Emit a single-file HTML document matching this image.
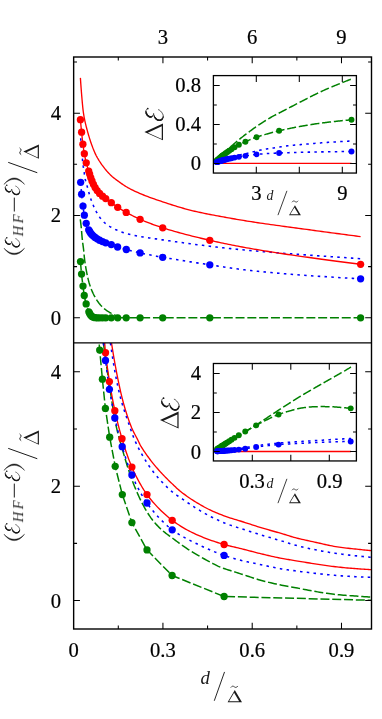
<!DOCTYPE html>
<html><head><meta charset="utf-8"><title>chart</title>
<style>html,body{margin:0;padding:0;background:#fff;}body{width:382px;height:719px;overflow:hidden;font-family:"Liberation Serif",serif;}svg{display:block;will-change:transform;}</style></head>
<body>
<svg width="382" height="719" viewBox="0 0 382 719">
<defs><clipPath id="cpT"><rect x="73.65" y="57.00" width="297.85" height="285.90"/></clipPath><clipPath id="cpB"><rect x="73.65" y="342.90" width="297.85" height="286.10"/></clipPath></defs>
<rect width="382" height="719" fill="#fff"/>
<path d="M80.40 77.85L80.50 79.37L80.60 80.88L80.70 82.38L80.80 83.87L80.91 85.36L81.02 86.83L81.12 88.29L81.24 89.75L81.35 91.19L81.46 92.63L81.58 94.06L81.70 95.47L81.82 96.89L81.94 98.31L82.06 99.74L82.19 101.17L82.31 102.59L82.44 104.01L82.58 105.40L82.71 106.76L82.85 108.09L82.99 109.37L83.14 110.60L83.28 111.78L83.44 112.89L83.59 113.93L83.75 114.92L83.91 115.88L84.08 116.82L84.26 117.77L84.45 118.73L84.65 119.74L84.86 120.80L85.10 121.90L85.35 123.04L85.63 124.20L85.92 125.37L86.22 126.57L86.53 127.77L86.85 128.98L87.18 130.18L87.51 131.38L87.84 132.57L88.18 133.75L88.52 134.95L88.88 136.16L89.25 137.38L89.62 138.59L90.00 139.80L90.39 140.99L90.78 142.17L91.17 143.32L91.57 144.45L91.96 145.54L92.35 146.60L92.73 147.63L93.11 148.63L93.50 149.62L93.90 150.61L94.32 151.60L94.76 152.60L95.23 153.62L95.73 154.66L96.28 155.75L96.89 156.86L97.53 158.01L98.22 159.16L98.93 160.33L99.67 161.49L100.43 162.64L101.20 163.77L101.96 164.87L102.73 165.93L103.48 166.94L104.23 167.91L104.98 168.86L105.74 169.80L106.51 170.71L107.29 171.59L108.08 172.46L108.87 173.31L109.67 174.13L110.48 174.93L111.29 175.70L112.11 176.45L112.95 177.17L113.79 177.87L114.65 178.55L115.51 179.22L116.37 179.87L117.24 180.51L118.11 181.14L118.97 181.76L119.83 182.38L120.68 182.99L121.51 183.58L122.35 184.17L123.19 184.74L124.04 185.31L124.92 185.88L125.84 186.45L126.79 187.02L127.79 187.60L128.83 188.17L129.90 188.74L131.00 189.31L132.13 189.88L133.29 190.45L134.48 191.02L135.70 191.59L136.95 192.16L138.22 192.72L139.52 193.29L140.85 193.86L142.21 194.43L143.61 195.00L145.05 195.57L146.52 196.13L148.02 196.70L149.55 197.27L151.10 197.83L152.69 198.40L154.29 198.97L155.92 199.53L157.56 200.10L159.22 200.67L160.90 201.23L162.59 201.80L164.33 202.38L166.10 202.96L167.91 203.56L169.75 204.15L171.62 204.75L173.51 205.35L175.42 205.95L177.34 206.54L179.28 207.12L181.22 207.69L183.17 208.25L185.11 208.80L187.05 209.33L188.98 209.84L190.90 210.33L192.80 210.80L194.69 211.25L196.60 211.69L198.52 212.11L200.45 212.53L202.38 212.94L204.31 213.34L206.24 213.72L208.17 214.11L210.10 214.48L212.02 214.85L213.93 215.21L215.83 215.56L217.71 215.91L219.58 216.25L221.44 216.59L223.27 216.93L225.07 217.26L226.82 217.58L228.53 217.89L230.19 218.19L231.82 218.48L233.44 218.76L235.06 219.04L236.68 219.32L238.32 219.60L239.98 219.88L241.68 220.16L243.44 220.45L245.25 220.74L247.14 221.05L249.11 221.36L251.17 221.68L253.34 222.02L255.61 222.36L257.96 222.71L260.40 223.07L262.91 223.43L265.49 223.80L268.13 224.17L270.82 224.55L273.55 224.93L276.31 225.31L279.10 225.70L281.91 226.08L284.73 226.46L287.56 226.85L290.38 227.23L293.18 227.61L295.97 227.98L298.73 228.36L301.45 228.72L304.13 229.09L306.75 229.44L309.32 229.79L311.84 230.13L314.36 230.47L316.87 230.81L319.37 231.15L321.87 231.49L324.35 231.82L326.83 232.15L329.30 232.48L331.76 232.81L334.21 233.14L336.65 233.46L339.08 233.79L341.51 234.11L343.92 234.43L346.33 234.74L348.73 235.06L351.12 235.37L353.51 235.68L355.88 235.99L358.24 236.30L360.60 236.60" stroke="#ff0000" stroke-width="1.35" fill="none" clip-path="url(#cpT)"/>
<path d="M80.70 138.30L80.76 139.55L80.82 140.77L80.88 141.97L80.95 143.13L81.01 144.27L81.08 145.37L81.16 146.44L81.23 147.48L81.31 148.50L81.39 149.47L81.47 150.42L81.55 151.33L81.64 152.19L81.74 153.02L81.84 153.81L81.94 154.58L82.04 155.34L82.14 156.11L82.23 156.88L82.32 157.67L82.39 158.47L82.46 159.28L82.53 160.08L82.59 160.88L82.66 161.68L82.73 162.49L82.80 163.29L82.89 164.08L82.99 164.88L83.11 165.67L83.24 166.46L83.39 167.25L83.53 168.04L83.68 168.83L83.82 169.62L83.94 170.41L84.06 171.21L84.15 172.02L84.24 172.84L84.33 173.66L84.41 174.48L84.50 175.29L84.59 176.08L84.70 176.85L84.82 177.60L84.96 178.30L85.11 178.95L85.29 179.57L85.48 180.20L85.68 180.86L85.90 181.57L86.13 182.36L86.39 183.27L86.66 184.30L86.97 185.44L87.29 186.67L87.64 187.98L88.01 189.35L88.39 190.77L88.80 192.22L89.21 193.69L89.64 195.16L90.08 196.61L90.53 198.03L90.99 199.41L91.45 200.72L91.92 201.97L92.40 203.22L92.92 204.47L93.45 205.73L94.00 206.99L94.57 208.23L95.16 209.46L95.76 210.67L96.37 211.84L97.00 212.98L97.63 214.08L98.27 215.13L98.91 216.12L99.56 217.05L100.21 217.92L100.87 218.76L101.52 219.57L102.20 220.34L102.88 221.08L103.59 221.80L104.32 222.50L105.08 223.18L105.87 223.84L106.70 224.49L107.58 225.13L108.53 225.77L109.55 226.41L110.64 227.05L111.78 227.68L112.97 228.30L114.19 228.90L115.44 229.49L116.70 230.05L117.96 230.59L119.21 231.10L120.45 231.58L121.65 232.01L122.82 232.41L123.94 232.77L125.03 233.10L126.09 233.40L127.13 233.69L128.17 233.96L129.21 234.22L130.26 234.47L131.33 234.72L132.43 234.96L133.57 235.20L134.76 235.45L136.00 235.70L137.30 235.96L138.66 236.21L140.07 236.46L141.52 236.71L143.01 236.96L144.54 237.20L146.10 237.45L147.68 237.69L149.29 237.93L150.92 238.17L152.56 238.41L154.22 238.65L155.87 238.89L157.53 239.13L159.18 239.37L160.83 239.62L162.47 239.86L164.13 240.10L165.80 240.35L167.50 240.60L169.20 240.85L170.92 241.09L172.65 241.34L174.39 241.59L176.14 241.84L177.89 242.08L179.65 242.33L181.41 242.57L183.17 242.81L184.93 243.05L186.69 243.29L188.44 243.53L190.19 243.76L191.93 243.99L193.66 244.21L195.40 244.44L197.15 244.66L198.90 244.88L200.66 245.11L202.42 245.33L204.18 245.55L205.94 245.76L207.70 245.98L209.45 246.19L211.20 246.40L212.94 246.61L214.67 246.82L216.40 247.02L218.11 247.22L219.81 247.41L221.49 247.60L223.16 247.79L224.80 247.97L226.39 248.14L227.91 248.30L229.40 248.46L230.84 248.62L232.27 248.77L233.68 248.92L235.10 249.06L236.53 249.21L237.98 249.36L239.47 249.50L241.02 249.65L242.62 249.81L244.30 249.97L246.07 250.14L247.93 250.31L249.90 250.49L251.97 250.68L254.12 250.87L256.35 251.06L258.65 251.26L261.02 251.46L263.47 251.67L265.99 251.87L268.59 252.09L271.26 252.30L274.01 252.52L276.82 252.74L279.71 252.96L282.67 253.19L285.70 253.42L288.81 253.65L291.98 253.88L295.22 254.12L298.53 254.37L301.91 254.61L305.36 254.86L308.88 255.11L312.46 255.37L316.11 255.63L319.83 255.89L323.62 256.16L327.47 256.43L331.39 256.70L335.37 256.98L339.41 257.25L343.52 257.54L347.70 257.82L351.94 258.11L356.24 258.40L360.60 258.70" stroke="#0000ff" stroke-width="1.55" stroke-dasharray="2.5 4.3" fill="none" clip-path="url(#cpT)"/>
<path d="M80.25 219.30L80.31 219.72L80.37 220.15L80.43 220.58L80.48 221.01L80.54 221.44L80.60 221.88L80.65 222.32L80.71 222.76L80.76 223.20L80.82 223.65L80.87 224.10L80.92 224.56L80.98 225.01L81.03 225.47L81.08 225.93L81.13 226.39L81.18 226.86L81.23 227.33L81.28 227.80L81.33 228.28L81.37 228.76L81.42 229.24L81.46 229.73L81.51 230.23L81.55 230.73L81.59 231.23L81.63 231.74L81.67 232.24L81.71 232.76L81.75 233.27L81.79 233.78L81.83 234.30L81.88 234.81L81.92 235.33L81.96 235.84L82.00 236.35L82.05 236.87L82.09 237.38L82.14 237.88L82.19 238.39L82.24 238.89L82.29 239.39L82.35 239.89L82.40 240.39L82.46 240.88L82.52 241.38L82.59 241.87L82.65 242.37L82.72 242.86L82.78 243.35L82.85 243.84L82.92 244.34L82.98 244.83L83.05 245.32L83.12 245.81L83.19 246.31L83.25 246.80L83.32 247.29L83.38 247.79L83.44 248.28L83.50 248.78L83.56 249.27L83.62 249.77L83.67 250.26L83.73 250.75L83.77 251.24L83.82 251.72L83.87 252.21L83.92 252.69L83.96 253.17L84.01 253.65L84.05 254.13L84.09 254.62L84.14 255.10L84.19 255.59L84.23 256.09L84.28 256.59L84.33 257.09L84.38 257.60L84.44 258.11L84.49 258.63L84.55 259.16L84.62 259.70L84.68 260.25L84.75 260.81L84.83 261.38L84.91 261.97L84.99 262.57L85.08 263.19L85.18 263.81L85.27 264.45L85.38 265.10L85.48 265.75L85.59 266.40L85.70 267.07L85.81 267.73L85.93 268.40L86.05 269.07L86.17 269.74L86.29 270.41L86.42 271.07L86.54 271.73L86.67 272.38L86.80 273.03L86.93 273.67L87.06 274.30L87.19 274.92L87.32 275.53L87.45 276.13L87.57 276.71L87.70 277.27L87.83 277.82L87.95 278.36L88.08 278.88L88.21 279.40L88.33 279.90L88.46 280.40L88.59 280.89L88.72 281.37L88.85 281.85L88.98 282.32L89.11 282.79L89.25 283.25L89.39 283.72L89.53 284.18L89.68 284.64L89.83 285.11L89.98 285.57L90.14 286.04L90.30 286.52L90.46 286.99L90.64 287.47L90.81 287.96L91.00 288.46L91.19 288.96L91.39 289.48L91.60 290.00L91.82 290.52L92.05 291.05L92.28 291.59L92.52 292.13L92.77 292.67L93.02 293.21L93.28 293.75L93.55 294.28L93.81 294.82L94.09 295.35L94.36 295.88L94.64 296.40L94.92 296.92L95.20 297.43L95.49 297.93L95.77 298.42L96.06 298.90L96.34 299.37L96.63 299.82L96.91 300.26L97.19 300.69L97.48 301.11L97.76 301.51L98.05 301.92L98.33 302.31L98.62 302.70L98.92 303.08L99.21 303.46L99.51 303.83L99.81 304.19L100.11 304.55L100.42 304.91L100.73 305.26L101.05 305.60L101.36 305.94L101.69 306.27L102.01 306.60L102.34 306.93L102.68 307.25L103.02 307.56L103.36 307.88L103.71 308.19L104.07 308.50L104.44 308.80L104.81 309.11L105.20 309.41L105.58 309.71L105.98 310.01L106.37 310.30L106.78 310.60L107.19 310.88L107.60 311.16L108.01 311.44L108.43 311.71L108.84 311.98L109.26 312.23L109.68 312.49L110.11 312.73L110.53 312.97L110.94 313.20L111.36 313.42L111.78 313.64L112.19 313.85L112.61 314.05L113.03 314.25L113.44 314.45L113.86 314.64L114.28 314.83L114.70 315.02L115.13 315.20L115.55 315.38L115.98 315.55L116.40 315.72L116.83 315.88L117.26 316.04L117.69 316.19L118.12 316.34L118.56 316.49L118.99 316.62L119.43 316.75L119.86 316.88L120.30 317.00" stroke="#008000" stroke-width="1.5" stroke-dasharray="9 2.8" fill="none" clip-path="url(#cpT)"/>
<path d="M80.40 119.70L80.50 120.82L80.60 121.94L80.71 123.06L80.81 124.17L80.92 125.29L81.02 126.40L81.13 127.51L81.24 128.62L81.35 129.72L81.46 130.82L81.57 131.92L81.68 133.03L81.80 134.13L81.91 135.24L82.02 136.35L82.14 137.46L82.25 138.57L82.37 139.66L82.49 140.75L82.61 141.82L82.73 142.87L82.86 143.91L83.00 144.93L83.13 145.93L83.27 146.91L83.41 147.88L83.55 148.84L83.70 149.80L83.85 150.74L84.00 151.69L84.16 152.63L84.33 153.58L84.50 154.54L84.68 155.49L84.86 156.44L85.05 157.39L85.24 158.33L85.44 159.27L85.64 160.21L85.85 161.14L86.07 162.06L86.29 162.98L86.53 163.88L86.77 164.78L87.02 165.66L87.28 166.54L87.55 167.41L87.82 168.29L88.10 169.17L88.38 170.07L88.66 170.97L88.94 171.89L89.23 172.83L89.52 173.78L89.82 174.74L90.12 175.70L90.43 176.66L90.75 177.61L91.07 178.55L91.41 179.48L91.75 180.38L92.11 181.28L92.48 182.16L92.87 183.05L93.26 183.92L93.67 184.79L94.09 185.63L94.52 186.46L94.96 187.27L95.42 188.05L95.89 188.80L96.38 189.53L96.89 190.24L97.41 190.94L97.96 191.62L98.51 192.28L99.08 192.92L99.66 193.54L100.24 194.14L100.83 194.72L101.44 195.27L102.07 195.80L102.71 196.32L103.36 196.82L104.01 197.32L104.67 197.82L105.33 198.31L105.98 198.82L106.64 199.31L107.30 199.80L107.96 200.29L108.63 200.77L109.30 201.26L109.97 201.74L110.66 202.23L111.35 202.73L112.04 203.24L112.73 203.75L113.43 204.27L114.13 204.79L114.84 205.31L115.56 205.83L116.30 206.35L117.05 206.86L117.82 207.38L118.60 207.89L119.40 208.40L120.20 208.90L121.02 209.40L121.86 209.91L122.71 210.41L123.58 210.92L124.48 211.44L125.40 211.96L126.35 212.48L127.33 213.02L128.33 213.56L129.36 214.11L130.41 214.66L131.49 215.21L132.59 215.77L133.71 216.33L134.86 216.89L136.03 217.44L137.22 218.00L138.43 218.56L139.67 219.11L140.92 219.66L142.19 220.20L143.49 220.75L144.80 221.29L146.14 221.83L147.50 222.38L148.89 222.92L150.31 223.46L151.75 224.00L153.22 224.54L154.73 225.09L156.27 225.63L157.84 226.18L159.45 226.73L161.10 227.28L162.79 227.83L164.54 228.39L166.36 228.96L168.26 229.53L170.22 230.12L172.24 230.71L174.31 231.30L176.43 231.89L178.58 232.49L180.77 233.09L182.99 233.68L185.23 234.28L187.49 234.87L189.76 235.45L192.02 236.03L194.29 236.60L196.55 237.16L198.79 237.71L201.01 238.24L203.21 238.77L205.37 239.28L207.50 239.77L209.57 240.25L211.60 240.71L213.57 241.15L215.51 241.58L217.40 242.00L219.27 242.41L221.12 242.81L222.95 243.20L224.77 243.58L226.60 243.96L228.44 244.34L230.29 244.71L232.17 245.08L234.08 245.46L236.03 245.83L238.02 246.21L240.07 246.60L242.17 246.99L244.35 247.39L246.60 247.79L248.94 248.21L251.36 248.64L253.84 249.07L256.38 249.51L258.97 249.95L261.61 250.39L264.31 250.83L267.06 251.27L269.87 251.72L272.72 252.17L275.63 252.62L278.60 253.08L281.61 253.54L284.68 254.00L287.80 254.46L290.97 254.92L294.19 255.39L297.46 255.86L300.79 256.34L304.16 256.81L307.58 257.29L311.06 257.78L314.58 258.26L318.15 258.75L321.77 259.24L325.44 259.73L329.16 260.23L332.92 260.73L336.73 261.23L340.60 261.73L344.50 262.24L348.46 262.75L352.46 263.26L356.51 263.78L360.60 264.30" stroke="#ff0000" stroke-width="1.35" fill="none" clip-path="url(#cpT)"/>
<path d="M80.65 182.30L80.71 183.33L80.78 184.35L80.85 185.38L80.93 186.40L81.01 187.43L81.09 188.46L81.18 189.48L81.26 190.51L81.35 191.53L81.45 192.56L81.54 193.58L81.64 194.61L81.74 195.64L81.85 196.68L81.97 197.73L82.09 198.77L82.21 199.82L82.33 200.86L82.46 201.89L82.59 202.91L82.72 203.92L82.85 204.91L82.97 205.88L83.09 206.83L83.21 207.76L83.33 208.68L83.45 209.58L83.57 210.48L83.69 211.36L83.82 212.24L83.95 213.11L84.09 213.98L84.24 214.84L84.39 215.71L84.56 216.57L84.73 217.43L84.91 218.28L85.10 219.13L85.30 219.97L85.51 220.80L85.72 221.62L85.95 222.43L86.18 223.22L86.42 224.01L86.67 224.80L86.94 225.58L87.22 226.35L87.51 227.11L87.81 227.86L88.12 228.58L88.44 229.27L88.77 229.93L89.10 230.57L89.44 231.18L89.78 231.77L90.15 232.35L90.53 232.91L90.92 233.45L91.34 233.98L91.79 234.50L92.27 235.01L92.80 235.51L93.35 236.01L93.94 236.49L94.53 236.96L95.14 237.41L95.74 237.84L96.34 238.26L96.92 238.65L97.50 239.02L98.08 239.39L98.67 239.74L99.26 240.08L99.87 240.40L100.50 240.72L101.15 241.02L101.83 241.32L102.55 241.61L103.30 241.89L104.06 242.16L104.82 242.43L105.57 242.68L106.30 242.93L106.99 243.16L107.63 243.38L108.23 243.58L108.79 243.76L109.33 243.94L109.88 244.12L110.44 244.30L111.03 244.50L111.66 244.73L112.32 244.98L113.01 245.25L113.71 245.53L114.44 245.82L115.18 246.11L115.93 246.40L116.70 246.69L117.48 246.96L118.27 247.22L119.07 247.47L119.88 247.72L120.71 247.96L121.55 248.20L122.41 248.45L123.29 248.69L124.19 248.93L125.11 249.18L126.05 249.43L127.01 249.69L128.00 249.95L129.00 250.22L130.03 250.48L131.07 250.75L132.14 251.02L133.23 251.29L134.34 251.56L135.47 251.83L136.62 252.11L137.79 252.38L138.98 252.65L140.19 252.92L141.42 253.19L142.67 253.46L143.94 253.73L145.22 253.99L146.53 254.26L147.85 254.52L149.20 254.79L150.58 255.06L151.98 255.33L153.41 255.60L154.87 255.87L156.36 256.15L157.88 256.43L159.43 256.71L161.02 257.00L162.64 257.29L164.31 257.59L166.06 257.89L167.86 258.20L169.73 258.52L171.65 258.84L173.62 259.17L175.63 259.50L177.68 259.83L179.76 260.17L181.86 260.51L183.99 260.84L186.14 261.18L188.30 261.52L190.46 261.86L192.62 262.19L194.79 262.53L196.94 262.86L199.07 263.18L201.19 263.50L203.28 263.82L205.34 264.13L207.36 264.44L209.35 264.73L211.28 265.02L213.17 265.31L215.02 265.60L216.83 265.88L218.62 266.16L220.38 266.43L222.13 266.71L223.86 266.98L225.60 267.25L227.34 267.51L229.09 267.78L230.85 268.04L232.64 268.30L234.46 268.56L236.31 268.82L238.21 269.08L240.16 269.33L242.16 269.58L244.23 269.84L246.36 270.09L248.57 270.34L250.85 270.59L253.20 270.84L255.59 271.09L258.03 271.34L260.52 271.59L263.06 271.84L265.64 272.08L268.28 272.33L270.96 272.57L273.69 272.82L276.47 273.06L279.29 273.30L282.16 273.54L285.08 273.78L288.05 274.02L291.06 274.26L294.11 274.50L297.22 274.73L300.36 274.97L303.56 275.20L306.79 275.44L310.08 275.67L313.40 275.90L316.78 276.13L320.19 276.36L323.65 276.59L327.15 276.81L330.70 277.04L334.29 277.26L337.92 277.49L341.60 277.71L345.31 277.93L349.07 278.15L352.87 278.37L356.72 278.58L360.60 278.80" stroke="#0000ff" stroke-width="1.55" stroke-dasharray="2.5 4.3" fill="none" clip-path="url(#cpT)"/>
<path d="M80.50 261.60L80.54 262.22L80.58 262.84L80.63 263.46L80.67 264.08L80.72 264.70L80.77 265.31L80.82 265.93L80.86 266.54L80.92 267.16L80.97 267.77L81.02 268.39L81.07 269.00L81.13 269.61L81.18 270.23L81.24 270.84L81.29 271.45L81.35 272.06L81.41 272.67L81.47 273.27L81.53 273.88L81.59 274.49L81.65 275.10L81.72 275.71L81.78 276.32L81.85 276.94L81.92 277.55L82.00 278.16L82.07 278.77L82.14 279.39L82.22 280.00L82.30 280.60L82.37 281.21L82.45 281.81L82.53 282.41L82.60 283.00L82.68 283.60L82.75 284.18L82.83 284.76L82.90 285.34L82.98 285.90L83.05 286.47L83.12 287.02L83.18 287.58L83.25 288.12L83.32 288.67L83.38 289.21L83.45 289.74L83.51 290.28L83.58 290.80L83.64 291.33L83.71 291.86L83.78 292.38L83.85 292.90L83.93 293.41L84.00 293.93L84.08 294.45L84.16 294.96L84.25 295.48L84.33 295.99L84.43 296.50L84.52 297.01L84.62 297.51L84.72 298.02L84.83 298.52L84.94 299.02L85.05 299.52L85.16 300.01L85.28 300.51L85.40 301.00L85.52 301.50L85.64 301.99L85.77 302.48L85.90 302.97L86.03 303.45L86.16 303.94L86.30 304.43L86.44 304.93L86.59 305.44L86.74 305.95L86.90 306.46L87.06 306.97L87.22 307.48L87.39 307.98L87.56 308.48L87.73 308.97L87.90 309.45L88.07 309.91L88.24 310.36L88.42 310.79L88.59 311.21L88.76 311.60L88.93 311.97L89.09 312.33L89.26 312.69L89.42 313.03L89.58 313.36L89.74 313.68L89.91 313.99L90.08 314.29L90.26 314.57L90.45 314.85L90.64 315.10L90.85 315.35L91.07 315.58L91.31 315.82L91.57 316.06L91.84 316.30L92.12 316.53L92.41 316.74L92.71 316.94L93.02 317.12L93.33 317.27L93.64 317.39L93.95 317.47L94.26 317.52L94.56 317.57L94.85 317.61L95.13 317.65L95.42 317.68L95.72 317.71L96.04 317.74L96.38 317.76L96.74 317.78L97.15 317.79L97.59 317.80L98.08 317.80L98.62 317.80L99.22 317.80L99.86 317.80L100.56 317.80L101.31 317.80L102.11 317.80L102.96 317.80L103.86 317.80L104.81 317.80L105.82 317.80L106.88 317.80L107.98 317.80L109.14 317.80L110.35 317.80L111.61 317.80L112.92 317.80L114.28 317.80L115.70 317.80L117.16 317.80L118.67 317.80L120.24 317.80L121.85 317.80L123.51 317.80L125.23 317.80L126.99 317.80L128.81 317.80L130.67 317.80L132.59 317.80L134.55 317.80L136.56 317.80L138.63 317.80L140.74 317.80L142.90 317.80L145.12 317.80L147.38 317.80L149.69 317.80L152.05 317.80L154.46 317.80L156.92 317.80L159.43 317.80L161.98 317.80L164.59 317.80L167.24 317.80L169.95 317.80L172.70 317.80L175.50 317.80L178.35 317.80L181.24 317.80L184.19 317.80L187.18 317.80L190.23 317.80L193.32 317.80L196.45 317.80L199.64 317.80L202.88 317.80L206.16 317.80L209.49 317.80L212.87 317.80L216.29 317.80L219.76 317.80L223.28 317.80L226.85 317.80L230.47 317.80L234.13 317.80L237.84 317.80L241.60 317.80L245.40 317.80L249.25 317.80L253.15 317.80L257.10 317.80L261.09 317.80L265.13 317.80L269.21 317.80L273.34 317.80L277.52 317.80L281.75 317.80L286.02 317.80L290.33 317.80L294.70 317.80L299.11 317.80L303.56 317.80L308.07 317.80L312.61 317.80L317.21 317.80L321.85 317.80L326.53 317.80L331.26 317.80L336.04 317.80L340.86 317.80L345.73 317.80L350.64 317.80L355.60 317.80L360.60 317.80" stroke="#008000" stroke-width="1.5" stroke-dasharray="9 2.8" fill="none" clip-path="url(#cpT)"/>
<path d="M111.50 343.00L111.91 345.59L112.32 348.14L112.73 350.66L113.14 353.15L113.55 355.60L113.97 358.02L114.38 360.41L114.80 362.76L115.22 365.08L115.64 367.36L116.06 369.61L116.48 371.83L116.90 374.01L117.32 376.15L117.74 378.26L118.17 380.33L118.59 382.35L119.00 384.32L119.41 386.24L119.82 388.12L120.23 389.96L120.64 391.79L121.06 393.59L121.48 395.38L121.92 397.17L122.37 398.96L122.84 400.76L123.32 402.57L123.83 404.42L124.35 406.29L124.91 408.20L125.48 410.12L126.08 412.05L126.69 413.98L127.31 415.89L127.94 417.78L128.58 419.63L129.22 421.43L129.86 423.18L130.50 424.86L131.14 426.46L131.77 427.98L132.44 429.47L133.12 430.92L133.81 432.33L134.51 433.69L135.20 435.01L135.87 436.29L136.51 437.50L137.12 438.67L137.68 439.77L138.18 440.78L138.62 441.69L139.03 442.53L139.42 443.35L139.84 444.19L140.30 445.09L140.85 446.09L141.50 447.21L142.25 448.43L143.08 449.72L143.98 451.08L144.94 452.48L145.94 453.91L146.96 455.34L148.00 456.76L149.03 458.16L150.05 459.51L151.04 460.81L152.03 462.08L153.04 463.34L154.07 464.60L155.11 465.84L156.15 467.07L157.21 468.29L158.27 469.50L159.33 470.68L160.38 471.85L161.44 473.00L162.49 474.13L163.55 475.25L164.63 476.36L165.71 477.46L166.79 478.55L167.86 479.61L168.93 480.65L169.98 481.67L171.01 482.66L172.01 483.63L172.98 484.55L173.89 485.43L174.76 486.27L175.61 487.09L176.47 487.90L177.35 488.71L178.27 489.53L179.26 490.38L180.33 491.27L181.50 492.20L182.75 493.17L184.07 494.16L185.45 495.16L186.88 496.18L188.34 497.19L189.82 498.20L191.30 499.19L192.78 500.16L194.25 501.09L195.68 501.99L197.09 502.85L198.51 503.70L199.94 504.54L201.37 505.37L202.80 506.18L204.24 506.97L205.68 507.75L207.12 508.50L208.57 509.24L210.02 509.95L211.48 510.64L212.94 511.30L214.42 511.96L215.90 512.59L217.39 513.22L218.88 513.82L220.38 514.42L221.86 514.99L223.34 515.55L224.81 516.09L226.27 516.61L227.71 517.11L229.11 517.58L230.49 518.03L231.85 518.46L233.21 518.87L234.57 519.28L235.95 519.69L237.35 520.11L238.80 520.55L240.29 521.01L241.84 521.50L243.45 522.01L245.11 522.54L246.80 523.09L248.54 523.66L250.29 524.23L252.07 524.80L253.86 525.38L255.65 525.95L257.44 526.52L259.22 527.08L260.98 527.62L262.72 528.15L264.49 528.67L266.28 529.19L268.09 529.71L269.91 530.23L271.72 530.74L273.51 531.25L275.29 531.75L277.02 532.24L278.72 532.72L280.35 533.19L281.93 533.64L283.42 534.09L284.82 534.51L286.15 534.93L287.42 535.33L288.66 535.72L289.90 536.11L291.16 536.50L292.46 536.89L293.83 537.28L295.30 537.68L296.85 538.08L298.47 538.49L300.15 538.89L301.89 539.30L303.66 539.71L305.46 540.11L307.28 540.52L309.11 540.92L310.94 541.32L312.75 541.71L314.55 542.10L316.31 542.49L318.06 542.88L319.81 543.28L321.56 543.68L323.32 544.08L325.07 544.48L326.82 544.87L328.58 545.25L330.33 545.62L332.09 545.96L333.85 546.29L335.61 546.59L337.37 546.87L339.15 547.13L340.96 547.38L342.78 547.62L344.61 547.84L346.44 548.06L348.26 548.27L350.06 548.47L351.83 548.67L353.56 548.85L355.24 549.03L356.87 549.20L358.44 549.37L359.96 549.53L361.46 549.68L362.92 549.83L364.35 549.98L365.75 550.12L367.11 550.25L368.44 550.37L369.74 550.49L371.00 550.60" stroke="#ff0000" stroke-width="1.35" fill="none" clip-path="url(#cpB)"/>
<path d="M110.40 343.00L110.78 345.71L111.17 348.37L111.56 350.99L111.94 353.56L112.33 356.09L112.72 358.57L113.11 361.01L113.50 363.40L113.90 365.74L114.29 368.04L114.68 370.29L115.08 372.49L115.47 374.64L115.87 376.75L116.26 378.80L116.66 380.80L117.05 382.73L117.43 384.58L117.81 386.37L118.19 388.11L118.57 389.82L118.96 391.50L119.36 393.17L119.76 394.84L120.19 396.52L120.62 398.22L121.08 399.96L121.57 401.74L122.08 403.54L122.62 405.36L123.19 407.18L123.77 409.02L124.37 410.85L124.97 412.68L125.58 414.50L126.20 416.30L126.81 418.08L127.42 419.84L128.01 421.56L128.59 423.26L129.17 424.94L129.74 426.61L130.31 428.27L130.88 429.91L131.45 431.53L132.03 433.14L132.60 434.71L133.19 436.26L133.78 437.77L134.39 439.25L135.00 440.69L135.61 442.08L136.21 443.41L136.83 444.72L137.45 446.00L138.08 447.27L138.73 448.54L139.41 449.84L140.12 451.16L140.86 452.52L141.64 453.93L142.47 455.39L143.34 456.89L144.24 458.41L145.17 459.94L146.13 461.47L147.10 462.99L148.08 464.50L149.07 465.98L150.06 467.42L151.04 468.80L152.02 470.14L153.00 471.45L154.00 472.73L155.00 473.99L156.01 475.23L157.04 476.45L158.07 477.65L159.10 478.83L160.14 479.99L161.18 481.13L162.23 482.26L163.29 483.38L164.36 484.49L165.44 485.59L166.52 486.67L167.61 487.73L168.70 488.76L169.79 489.76L170.88 490.72L171.96 491.64L173.04 492.51L174.09 493.32L175.13 494.08L176.17 494.82L177.22 495.54L178.28 496.25L179.37 496.98L180.49 497.74L181.66 498.54L182.87 499.38L184.13 500.26L185.43 501.16L186.75 502.08L188.11 503.01L189.48 503.95L190.87 504.88L192.27 505.81L193.67 506.72L195.07 507.61L196.47 508.47L197.88 509.33L199.31 510.19L200.74 511.05L202.19 511.89L203.65 512.73L205.12 513.56L206.59 514.37L208.06 515.16L209.53 515.94L211.00 516.70L212.47 517.44L213.95 518.17L215.44 518.90L216.94 519.61L218.44 520.31L219.93 521.00L221.43 521.66L222.92 522.31L224.40 522.93L225.87 523.52L227.33 524.09L228.75 524.62L230.15 525.11L231.53 525.59L232.90 526.04L234.28 526.49L235.67 526.93L237.08 527.38L238.54 527.84L240.04 528.32L241.60 528.83L243.22 529.35L244.90 529.89L246.62 530.44L248.37 531.00L250.16 531.56L251.96 532.13L253.78 532.70L255.60 533.27L257.42 533.83L259.22 534.38L261.01 534.93L262.78 535.46L264.57 536.00L266.39 536.53L268.23 537.07L270.07 537.60L271.90 538.13L273.72 538.65L275.51 539.16L277.27 539.67L278.98 540.17L280.63 540.65L282.21 541.12L283.70 541.58L285.11 542.02L286.43 542.45L287.71 542.87L288.97 543.28L290.23 543.68L291.51 544.09L292.85 544.49L294.27 544.90L295.78 545.31L297.38 545.73L299.05 546.15L300.77 546.58L302.54 547.01L304.35 547.43L306.19 547.85L308.04 548.26L309.90 548.66L311.75 549.06L313.58 549.44L315.39 549.80L317.17 550.15L318.95 550.49L320.74 550.83L322.52 551.16L324.31 551.48L326.10 551.79L327.88 552.10L329.67 552.40L331.46 552.68L333.25 552.96L335.04 553.23L336.83 553.49L338.63 553.74L340.46 553.98L342.31 554.22L344.17 554.45L346.02 554.68L347.87 554.90L349.70 555.11L351.50 555.31L353.26 555.51L354.98 555.70L356.64 555.88L358.23 556.05L359.79 556.21L361.31 556.37L362.79 556.52L364.25 556.67L365.67 556.81L367.05 556.94L368.41 557.07L369.72 557.19L371.00 557.30" stroke="#0000ff" stroke-width="1.55" stroke-dasharray="2.5 4.3" fill="none" clip-path="url(#cpB)"/>
<path d="M103.40 343.00L103.85 346.32L104.30 349.60L104.75 352.83L105.19 356.01L105.63 359.14L106.06 362.22L106.49 365.25L106.91 368.23L107.33 371.17L107.75 374.05L108.16 376.88L108.57 379.66L108.97 382.39L109.37 385.07L109.77 387.69L110.16 390.27L110.55 392.79L110.93 395.25L111.30 397.66L111.66 399.99L112.01 402.25L112.35 404.46L112.68 406.62L113.01 408.73L113.33 410.81L113.67 412.86L114.00 414.88L114.35 416.90L114.71 418.90L115.09 420.91L115.48 422.92L115.90 424.95L116.34 426.95L116.79 428.92L117.27 430.88L117.76 432.81L118.26 434.74L118.78 436.66L119.31 438.57L119.85 440.49L120.40 442.42L120.95 444.36L121.51 446.32L122.07 448.30L122.64 450.31L123.22 452.34L123.81 454.38L124.40 456.44L125.01 458.50L125.63 460.57L126.26 462.64L126.89 464.71L127.54 466.78L128.20 468.84L128.88 470.88L129.56 472.91L130.26 474.91L130.97 476.91L131.70 478.91L132.44 480.91L133.20 482.92L133.98 484.92L134.78 486.91L135.58 488.89L136.40 490.84L137.22 492.77L138.06 494.67L138.90 496.53L139.76 498.35L140.61 500.12L141.48 501.85L142.35 503.56L143.24 505.25L144.13 506.91L145.04 508.55L145.96 510.16L146.90 511.73L147.84 513.27L148.80 514.76L149.76 516.20L150.74 517.60L151.74 518.95L152.74 520.25L153.77 521.52L154.81 522.75L155.87 523.95L156.94 525.12L158.02 526.25L159.11 527.36L160.22 528.43L161.34 529.49L162.47 530.51L163.62 531.49L164.78 532.44L165.95 533.36L167.15 534.25L168.35 535.14L169.56 536.02L170.79 536.91L172.03 537.81L173.27 538.73L174.51 539.66L175.73 540.58L176.96 541.50L178.19 542.43L179.45 543.36L180.73 544.30L182.06 545.25L183.43 546.22L184.87 547.21L186.38 548.22L188.03 549.29L189.84 550.43L191.78 551.62L193.82 552.85L195.93 554.10L198.08 555.36L200.23 556.61L202.36 557.82L204.44 558.99L206.43 560.10L208.30 561.12L210.02 562.05L211.57 562.87L212.91 563.56L214.06 564.16L215.07 564.68L216.01 565.16L216.94 565.62L217.90 566.08L218.97 566.56L220.20 567.08L221.60 567.64L223.14 568.21L224.81 568.79L226.57 569.38L228.41 569.98L230.32 570.58L232.25 571.19L234.20 571.79L236.15 572.40L238.06 572.99L239.92 573.59L241.73 574.17L243.52 574.76L245.31 575.36L247.10 575.96L248.89 576.57L250.69 577.16L252.48 577.76L254.28 578.34L256.07 578.91L257.87 579.45L259.67 579.98L261.47 580.48L263.29 580.97L265.14 581.44L267.01 581.91L268.90 582.37L270.80 582.81L272.68 583.25L274.54 583.66L276.37 584.07L278.16 584.45L279.89 584.81L281.56 585.15L283.14 585.47L284.63 585.75L286.03 586.01L287.37 586.25L288.68 586.48L289.99 586.71L291.32 586.94L292.70 587.18L294.15 587.44L295.71 587.73L297.35 588.05L299.07 588.38L300.84 588.74L302.66 589.10L304.52 589.47L306.40 589.85L308.30 590.22L310.20 590.59L312.09 590.94L313.97 591.27L315.81 591.59L317.64 591.88L319.46 592.18L321.29 592.48L323.12 592.77L324.95 593.05L326.78 593.32L328.61 593.59L330.44 593.84L332.27 594.08L334.11 594.30L335.94 594.50L337.77 594.69L339.63 594.86L341.52 595.02L343.42 595.18L345.32 595.32L347.22 595.46L349.10 595.60L350.96 595.73L352.77 595.85L354.54 595.97L356.26 596.09L357.90 596.21L359.50 596.32L361.06 596.43L362.59 596.54L364.08 596.64L365.54 596.74L366.96 596.84L368.34 596.93L369.69 597.02L371.00 597.10" stroke="#008000" stroke-width="1.5" stroke-dasharray="9 2.8" fill="none" clip-path="url(#cpB)"/>
<path d="M104.70 343.00L104.74 343.89L104.80 344.86L104.88 345.91L104.97 347.02L105.07 348.21L105.19 349.46L105.32 350.78L105.45 352.16L105.59 353.61L105.76 355.21L105.96 356.93L106.19 358.76L106.43 360.69L106.70 362.71L106.99 364.78L107.28 366.91L107.59 369.07L107.91 371.24L108.24 373.42L108.56 375.58L108.89 377.71L109.22 379.80L109.53 381.82L109.85 383.81L110.18 385.81L110.52 387.80L110.86 389.80L111.21 391.80L111.57 393.80L111.93 395.80L112.30 397.80L112.68 399.79L113.07 401.78L113.46 403.77L113.86 405.75L114.27 407.73L114.69 409.70L115.11 411.67L115.54 413.63L115.98 415.58L116.43 417.53L116.89 419.47L117.36 421.41L117.83 423.35L118.32 425.29L118.82 427.22L119.33 429.15L119.85 431.08L120.38 433.01L120.92 434.94L121.47 436.87L122.03 438.81L122.60 440.74L123.19 442.68L123.79 444.63L124.40 446.57L125.02 448.52L125.65 450.46L126.31 452.41L126.97 454.34L127.66 456.28L128.36 458.21L129.08 460.13L129.82 462.04L130.58 463.94L131.36 465.83L132.16 467.70L132.99 469.58L133.84 471.46L134.71 473.33L135.61 475.20L136.54 477.06L137.50 478.92L138.48 480.77L139.49 482.60L140.53 484.43L141.59 486.24L142.69 488.03L143.81 489.81L144.97 491.56L146.15 493.29L147.36 495.01L148.64 496.73L149.99 498.46L151.41 500.20L152.87 501.94L154.39 503.67L155.95 505.39L157.55 507.09L159.17 508.77L160.82 510.41L162.49 512.02L164.17 513.58L165.85 515.09L167.52 516.54L169.19 517.93L170.84 519.25L172.46 520.50L174.08 521.69L175.70 522.84L177.32 523.96L178.95 525.04L180.59 526.08L182.23 527.10L183.89 528.09L185.56 529.05L187.24 529.98L188.94 530.89L190.65 531.77L192.39 532.63L194.15 533.48L195.93 534.30L197.76 535.12L199.64 535.93L201.58 536.73L203.55 537.53L205.55 538.30L207.57 539.06L209.59 539.80L211.60 540.52L213.60 541.21L215.58 541.87L217.52 542.51L219.41 543.10L221.24 543.67L223.01 544.19L224.70 544.67L226.32 545.11L227.87 545.51L229.38 545.89L230.86 546.24L232.31 546.58L233.74 546.92L235.18 547.25L236.64 547.58L238.12 547.92L239.63 548.29L241.20 548.68L242.80 549.08L244.43 549.50L246.09 549.93L247.76 550.37L249.44 550.82L251.14 551.27L252.84 551.72L254.55 552.16L256.26 552.60L257.97 553.04L259.67 553.46L261.36 553.87L263.05 554.27L264.77 554.68L266.51 555.09L268.26 555.49L270.02 555.90L271.77 556.30L273.51 556.69L275.23 557.06L276.92 557.43L278.56 557.77L280.16 558.09L281.69 558.39L283.16 558.67L284.55 558.91L285.85 559.14L287.11 559.35L288.33 559.54L289.54 559.73L290.76 559.93L292.02 560.12L293.33 560.33L294.72 560.55L296.20 560.80L297.74 561.05L299.35 561.32L301.00 561.60L302.70 561.88L304.43 562.17L306.18 562.46L307.94 562.75L309.71 563.03L311.48 563.32L313.23 563.59L314.95 563.86L316.65 564.11L318.35 564.37L320.05 564.62L321.74 564.87L323.44 565.13L325.14 565.37L326.84 565.62L328.54 565.85L330.23 566.08L331.93 566.31L333.63 566.52L335.33 566.72L337.03 566.91L338.74 567.10L340.48 567.28L342.24 567.46L344.00 567.63L345.77 567.80L347.52 567.96L349.26 568.12L350.98 568.27L352.66 568.41L354.31 568.54L355.91 568.66L357.45 568.78L358.94 568.88L360.41 568.98L361.84 569.08L363.24 569.17L364.61 569.26L365.95 569.34L367.26 569.42L368.54 569.48L369.79 569.55L371.00 569.60" stroke="#ff0000" stroke-width="1.35" fill="none" clip-path="url(#cpB)"/>
<path d="M103.40 343.00L103.55 344.39L103.72 345.82L103.88 347.28L104.06 348.78L104.25 350.32L104.44 351.89L104.63 353.49L104.84 355.13L105.04 356.81L105.26 358.51L105.48 360.25L105.71 362.04L105.95 363.89L106.19 365.81L106.45 367.77L106.71 369.78L106.98 371.83L107.26 373.90L107.54 375.99L107.84 378.10L108.13 380.21L108.44 382.31L108.74 384.40L109.06 386.47L109.38 388.52L109.70 390.53L110.03 392.55L110.37 394.56L110.71 396.57L111.07 398.57L111.43 400.58L111.80 402.59L112.17 404.59L112.56 406.60L112.95 408.60L113.35 410.61L113.76 412.61L114.18 414.61L114.60 416.61L115.03 418.61L115.47 420.61L115.92 422.61L116.39 424.61L116.86 426.60L117.34 428.60L117.84 430.60L118.34 432.59L118.85 434.59L119.38 436.58L119.91 438.57L120.45 440.55L121.01 442.54L121.57 444.52L122.14 446.49L122.72 448.46L123.31 450.44L123.90 452.41L124.51 454.38L125.13 456.35L125.76 458.31L126.41 460.28L127.07 462.24L127.75 464.19L128.45 466.14L129.16 468.08L129.90 470.02L130.65 471.95L131.43 473.87L132.23 475.79L133.06 477.71L133.92 479.62L134.80 481.54L135.71 483.46L136.65 485.37L137.61 487.27L138.61 489.17L139.63 491.06L140.68 492.93L141.76 494.80L142.86 496.64L144.00 498.47L145.17 500.28L146.36 502.07L147.59 503.85L148.89 505.63L150.24 507.44L151.65 509.25L153.12 511.06L154.63 512.87L156.18 514.66L157.77 516.43L159.39 518.18L161.04 519.89L162.71 521.56L164.40 523.18L166.10 524.75L167.80 526.25L169.51 527.69L171.21 529.05L172.91 530.33L174.64 531.56L176.40 532.75L178.20 533.90L180.02 535.02L181.86 536.10L183.72 537.15L185.59 538.17L187.47 539.17L189.35 540.14L191.23 541.09L193.11 542.02L194.98 542.93L196.84 543.82L198.68 544.70L200.50 545.57L202.34 546.44L204.19 547.29L206.05 548.14L207.91 548.97L209.77 549.79L211.62 550.58L213.46 551.36L215.28 552.10L217.08 552.82L218.86 553.51L220.60 554.17L222.31 554.78L223.98 555.36L225.60 555.90L227.16 556.41L228.69 556.89L230.18 557.35L231.66 557.79L233.12 558.22L234.58 558.63L236.06 559.04L237.56 559.44L239.09 559.84L240.66 560.24L242.28 560.64L243.93 561.04L245.60 561.43L247.30 561.81L249.01 562.19L250.74 562.57L252.48 562.94L254.22 563.30L255.97 563.67L257.71 564.03L259.44 564.39L261.17 564.75L262.89 565.11L264.63 565.48L266.40 565.85L268.18 566.23L269.97 566.61L271.75 566.99L273.52 567.36L275.26 567.71L276.98 568.05L278.65 568.37L280.26 568.67L281.82 568.94L283.31 569.18L284.70 569.40L286.02 569.59L287.29 569.77L288.53 569.95L289.76 570.11L291.01 570.28L292.30 570.44L293.65 570.62L295.08 570.81L296.60 571.01L298.19 571.22L299.84 571.44L301.54 571.66L303.28 571.88L305.04 572.10L306.83 572.33L308.63 572.55L310.43 572.77L312.22 572.98L313.99 573.18L315.73 573.38L317.46 573.57L319.18 573.76L320.91 573.95L322.63 574.14L324.36 574.33L326.09 574.51L327.81 574.68L329.54 574.85L331.27 575.02L333.00 575.18L334.72 575.33L336.45 575.47L338.18 575.60L339.94 575.73L341.72 575.86L343.51 575.98L345.31 576.11L347.09 576.22L348.86 576.34L350.61 576.44L352.33 576.54L354.01 576.63L355.64 576.71L357.22 576.78L358.74 576.84L360.23 576.89L361.69 576.95L363.11 577.00L364.51 577.05L365.87 577.09L367.20 577.13L368.50 577.16L369.77 577.18L371.00 577.20" stroke="#0000ff" stroke-width="1.55" stroke-dasharray="2.5 4.3" fill="none" clip-path="url(#cpB)"/>
<path d="M97.30 321.00L99.70 350.10L102.40 379.20L105.40 408.40L109.70 437.20L115.20 466.30L122.30 494.60L131.90 522.60L147.00 549.90L172.10 575.50L224.10 596.50L391.60 600.80" stroke="#008000" stroke-width="1.5" stroke-dasharray="9 2.8" fill="none" clip-path="url(#cpB)"/>
<g fill="#ff0000" clip-path="url(#cpT)"><circle cx="102.53" cy="196.17" r="3.65"/><circle cx="99.57" cy="193.44" r="3.65"/><circle cx="97.15" cy="190.59" r="3.65"/><circle cx="95.14" cy="187.57" r="3.65"/><circle cx="93.44" cy="184.30" r="3.65"/><circle cx="91.98" cy="180.96" r="3.65"/><circle cx="90.72" cy="177.55" r="3.65"/><circle cx="89.62" cy="174.10" r="3.65"/><circle cx="80.40" cy="119.70" r="3.65"/><circle cx="81.60" cy="132.20" r="3.65"/><circle cx="82.90" cy="144.20" r="3.65"/><circle cx="84.35" cy="153.70" r="3.65"/><circle cx="86.25" cy="162.80" r="3.65"/><circle cx="88.70" cy="171.10" r="3.65"/><circle cx="105.70" cy="198.60" r="3.65"/><circle cx="111.30" cy="202.70" r="3.65"/><circle cx="117.70" cy="207.30" r="3.65"/><circle cx="126.20" cy="212.40" r="3.65"/><circle cx="140.10" cy="219.30" r="3.65"/><circle cx="162.70" cy="227.80" r="3.65"/><circle cx="209.80" cy="240.30" r="3.65"/><circle cx="360.60" cy="264.30" r="3.65"/></g>
<g fill="#0000ff" clip-path="url(#cpT)"><circle cx="102.53" cy="241.60" r="3.65"/><circle cx="99.57" cy="240.24" r="3.65"/><circle cx="97.15" cy="238.80" r="3.65"/><circle cx="95.14" cy="237.41" r="3.65"/><circle cx="93.44" cy="236.08" r="3.65"/><circle cx="91.98" cy="234.71" r="3.65"/><circle cx="90.72" cy="233.18" r="3.65"/><circle cx="89.62" cy="231.50" r="3.65"/><circle cx="80.65" cy="182.30" r="3.65"/><circle cx="81.60" cy="194.20" r="3.65"/><circle cx="83.00" cy="206.10" r="3.65"/><circle cx="84.35" cy="215.20" r="3.65"/><circle cx="86.20" cy="223.30" r="3.65"/><circle cx="88.70" cy="229.80" r="3.65"/><circle cx="105.70" cy="242.80" r="3.65"/><circle cx="111.30" cy="244.60" r="3.65"/><circle cx="117.60" cy="247.00" r="3.65"/><circle cx="126.30" cy="249.50" r="3.65"/><circle cx="140.10" cy="252.90" r="3.65"/><circle cx="162.70" cy="257.30" r="3.65"/><circle cx="209.80" cy="264.80" r="3.65"/><circle cx="360.60" cy="278.80" r="3.65"/></g>
<g fill="#008000" clip-path="url(#cpT)"><circle cx="102.53" cy="317.80" r="3.65"/><circle cx="99.57" cy="317.80" r="3.65"/><circle cx="97.15" cy="317.79" r="3.65"/><circle cx="95.14" cy="317.65" r="3.65"/><circle cx="93.44" cy="317.31" r="3.65"/><circle cx="91.98" cy="316.42" r="3.65"/><circle cx="90.72" cy="315.20" r="3.65"/><circle cx="89.62" cy="313.45" r="3.65"/><circle cx="80.50" cy="261.60" r="3.65"/><circle cx="81.55" cy="274.10" r="3.65"/><circle cx="83.00" cy="286.10" r="3.65"/><circle cx="84.25" cy="295.50" r="3.65"/><circle cx="86.15" cy="303.90" r="3.65"/><circle cx="88.85" cy="311.80" r="3.65"/><circle cx="105.70" cy="317.80" r="3.65"/><circle cx="111.30" cy="317.80" r="3.65"/><circle cx="117.70" cy="317.80" r="3.65"/><circle cx="126.20" cy="317.80" r="3.65"/><circle cx="140.10" cy="317.80" r="3.65"/><circle cx="162.70" cy="317.80" r="3.65"/><circle cx="209.80" cy="317.80" r="3.65"/><circle cx="360.60" cy="317.80" r="3.65"/></g>
<g fill="#ff0000" clip-path="url(#cpB)"><circle cx="105.50" cy="352.70" r="3.65"/><circle cx="109.40" cy="381.60" r="3.65"/><circle cx="114.80" cy="410.70" r="3.65"/><circle cx="122.00" cy="438.70" r="3.65"/><circle cx="131.90" cy="467.10" r="3.65"/><circle cx="147.00" cy="494.60" r="3.65"/><circle cx="172.20" cy="520.30" r="3.65"/><circle cx="224.10" cy="544.50" r="3.65"/></g>
<g fill="#0000ff" clip-path="url(#cpB)"><circle cx="105.50" cy="360.40" r="3.65"/><circle cx="109.40" cy="389.30" r="3.65"/><circle cx="114.80" cy="418.00" r="3.65"/><circle cx="122.20" cy="446.70" r="3.65"/><circle cx="131.90" cy="475.00" r="3.65"/><circle cx="147.00" cy="503.00" r="3.65"/><circle cx="172.20" cy="529.80" r="3.65"/><circle cx="224.10" cy="555.40" r="3.65"/></g>
<g fill="#008000" clip-path="url(#cpB)"><circle cx="99.70" cy="350.10" r="3.65"/><circle cx="102.40" cy="379.20" r="3.65"/><circle cx="105.40" cy="408.40" r="3.65"/><circle cx="109.70" cy="437.20" r="3.65"/><circle cx="115.20" cy="466.30" r="3.65"/><circle cx="122.30" cy="494.60" r="3.65"/><circle cx="131.90" cy="522.60" r="3.65"/><circle cx="147.00" cy="549.90" r="3.65"/><circle cx="172.10" cy="575.50" r="3.65"/><circle cx="224.10" cy="596.50" r="3.65"/></g>
<rect x="213.40" y="75.60" width="143.00" height="97.45" fill="#fff"/>
<rect x="213.40" y="363.50" width="143.00" height="97.45" fill="#fff"/>
<path d="M213.50 163.40L351.50 163.40" stroke="#ff0000" stroke-width="1.35" fill="none"/>
<path d="M213.50 163.40L214.05 162.83L214.60 162.26L215.14 161.69L215.69 161.13L216.23 160.58L216.77 160.03L217.30 159.48L217.83 158.94L218.37 158.41L218.89 157.88L219.42 157.35L219.94 156.83L220.46 156.31L220.98 155.80L221.50 155.30L222.01 154.80L222.52 154.30L223.03 153.81L223.54 153.32L224.04 152.84L224.54 152.37L225.04 151.89L225.54 151.42L226.04 150.96L226.54 150.50L227.03 150.04L227.53 149.59L228.02 149.14L228.51 148.69L228.99 148.25L229.47 147.82L229.95 147.39L230.42 146.97L230.89 146.56L231.35 146.15L231.80 145.75L232.25 145.35L232.70 144.97L233.13 144.59L233.55 144.22L233.95 143.88L234.34 143.54L234.71 143.21L235.09 142.90L235.45 142.58L235.82 142.27L236.19 141.96L236.57 141.64L236.96 141.31L237.36 140.98L237.78 140.63L238.22 140.27L238.69 139.89L239.18 139.49L239.70 139.07L240.24 138.64L240.81 138.18L241.41 137.71L242.02 137.23L242.65 136.73L243.30 136.23L243.96 135.71L244.63 135.19L245.31 134.67L245.99 134.14L246.69 133.62L247.38 133.09L248.07 132.56L248.77 132.04L249.46 131.53L250.14 131.02L250.81 130.53L251.48 130.04L252.13 129.57L252.76 129.11L253.38 128.67L254.00 128.23L254.62 127.80L255.24 127.37L255.85 126.94L256.47 126.51L257.08 126.09L257.70 125.67L258.31 125.26L258.91 124.85L259.51 124.45L260.11 124.05L260.71 123.65L261.30 123.27L261.88 122.89L262.45 122.51L263.02 122.15L263.59 121.79L264.14 121.44L264.69 121.10L265.22 120.76L265.75 120.44L266.27 120.12L266.77 119.81L267.28 119.50L267.77 119.20L268.26 118.91L268.75 118.62L269.23 118.33L269.71 118.05L270.18 117.77L270.66 117.50L271.14 117.23L271.61 116.96L272.09 116.69L272.58 116.42L273.06 116.16L273.53 115.91L273.99 115.66L274.44 115.43L274.88 115.19L275.32 114.97L275.77 114.74L276.22 114.52L276.67 114.29L277.14 114.05L277.61 113.81L278.11 113.56L278.62 113.30L279.16 113.03L279.72 112.74L280.31 112.44L280.94 112.11L281.60 111.77L282.28 111.41L283.00 111.04L283.74 110.65L284.50 110.25L285.29 109.84L286.09 109.42L286.92 108.98L287.76 108.54L288.61 108.10L289.47 107.64L290.34 107.18L291.22 106.72L292.11 106.26L293.00 105.79L293.89 105.33L294.78 104.86L295.67 104.40L296.55 103.94L297.43 103.49L298.29 103.04L299.15 102.60L299.99 102.16L300.82 101.74L301.64 101.32L302.46 100.90L303.28 100.48L304.10 100.06L304.92 99.64L305.73 99.22L306.55 98.79L307.37 98.37L308.19 97.95L309.01 97.53L309.83 97.11L310.65 96.69L311.47 96.27L312.29 95.86L313.12 95.44L313.94 95.03L314.76 94.62L315.58 94.21L316.40 93.81L317.23 93.41L318.05 93.01L318.88 92.61L319.70 92.22L320.53 91.84L321.35 91.45L322.18 91.07L323.02 90.69L323.87 90.31L324.73 89.93L325.60 89.54L326.49 89.16L327.37 88.77L328.26 88.39L329.15 88.01L330.05 87.63L330.94 87.25L331.83 86.88L332.71 86.51L333.59 86.14L334.46 85.78L335.32 85.43L336.16 85.08L336.99 84.74L337.81 84.41L338.61 84.08L339.39 83.77L340.15 83.46L340.88 83.17L341.59 82.88L342.28 82.61L342.93 82.35L343.57 82.09L344.20 81.84L344.81 81.60L345.42 81.36L346.01 81.13L346.58 80.90L347.15 80.68L347.70 80.47L348.23 80.26L348.76 80.06L349.27 79.87L349.76 79.68L350.24 79.50L350.71 79.32L351.16 79.16L351.60 79.00" stroke="#008000" stroke-width="1.5" stroke-dasharray="9 2.8" fill="none"/>
<path d="M213.50 163.40L214.22 163.10L214.94 162.79L215.66 162.50L216.37 162.20L217.09 161.91L217.79 161.62L218.50 161.34L219.20 161.06L219.90 160.79L220.59 160.52L221.28 160.25L221.97 159.99L222.66 159.74L223.34 159.48L224.02 159.24L224.69 159.00L225.37 158.76L226.04 158.53L226.70 158.30L227.36 158.08L228.02 157.87L228.68 157.66L229.33 157.45L229.98 157.25L230.63 157.06L231.27 156.87L231.91 156.69L232.55 156.52L233.18 156.35L233.82 156.19L234.45 156.03L235.08 155.88L235.71 155.73L236.34 155.59L236.97 155.45L237.59 155.32L238.22 155.19L238.83 155.06L239.45 154.94L240.06 154.81L240.67 154.69L241.27 154.57L241.87 154.46L242.46 154.34L243.04 154.22L243.62 154.11L244.19 153.99L244.75 153.88L245.31 153.76L245.86 153.65L246.39 153.53L246.92 153.41L247.44 153.29L247.95 153.17L248.45 153.05L248.94 152.93L249.42 152.80L249.89 152.68L250.35 152.56L250.81 152.45L251.26 152.33L251.71 152.21L252.16 152.09L252.60 151.98L253.04 151.86L253.48 151.74L253.93 151.63L254.37 151.52L254.82 151.41L255.27 151.30L255.73 151.19L256.19 151.08L256.65 150.97L257.12 150.86L257.59 150.75L258.06 150.64L258.53 150.54L259.01 150.43L259.48 150.32L259.95 150.21L260.42 150.11L260.90 150.01L261.37 149.90L261.84 149.80L262.31 149.71L262.77 149.61L263.24 149.52L263.70 149.43L264.16 149.35L264.62 149.27L265.08 149.19L265.52 149.11L265.96 149.04L266.39 148.98L266.81 148.92L267.23 148.86L267.64 148.80L268.05 148.74L268.47 148.69L268.89 148.63L269.31 148.57L269.73 148.52L270.17 148.46L270.61 148.40L271.07 148.34L271.54 148.28L272.02 148.21L272.52 148.14L273.04 148.06L273.59 147.98L274.16 147.90L274.75 147.80L275.35 147.71L275.98 147.61L276.62 147.50L277.28 147.39L277.95 147.28L278.63 147.17L279.32 147.06L280.02 146.94L280.72 146.83L281.43 146.71L282.14 146.60L282.84 146.49L283.55 146.37L284.25 146.27L284.94 146.16L285.63 146.06L286.31 145.96L286.98 145.87L287.64 145.78L288.28 145.70L288.90 145.62L289.51 145.55L290.09 145.49L290.66 145.43L291.21 145.38L291.75 145.33L292.27 145.28L292.78 145.24L293.29 145.19L293.79 145.15L294.28 145.11L294.77 145.08L295.26 145.04L295.75 145.00L296.24 144.96L296.73 144.93L297.24 144.89L297.75 144.85L298.27 144.81L298.80 144.77L299.34 144.73L299.91 144.68L300.48 144.63L301.08 144.58L301.69 144.53L302.32 144.48L302.95 144.42L303.60 144.37L304.26 144.31L304.93 144.25L305.61 144.19L306.30 144.12L307.00 144.06L307.70 144.00L308.42 143.93L309.14 143.87L309.87 143.80L310.60 143.74L311.35 143.67L312.10 143.60L312.85 143.54L313.61 143.47L314.37 143.40L315.14 143.34L315.91 143.27L316.69 143.21L317.47 143.14L318.25 143.08L319.03 143.02L319.82 142.96L320.60 142.90L321.39 142.84L322.17 142.78L322.96 142.72L323.76 142.67L324.55 142.61L325.36 142.55L326.16 142.50L326.98 142.44L327.79 142.39L328.61 142.33L329.44 142.28L330.27 142.22L331.10 142.17L331.94 142.11L332.79 142.06L333.63 142.01L334.49 141.95L335.34 141.90L336.20 141.85L337.07 141.80L337.94 141.74L338.81 141.69L339.69 141.64L340.57 141.59L341.46 141.54L342.35 141.49L343.25 141.44L344.15 141.39L345.05 141.34L345.96 141.29L346.87 141.24L347.79 141.19L348.71 141.14L349.64 141.09L350.57 141.05L351.50 141.00" stroke="#0000ff" stroke-width="1.55" stroke-dasharray="2.5 4.3" fill="none"/>
<path d="M213.50 163.40L213.81 163.12L214.12 162.83L214.44 162.54L214.76 162.26L215.08 161.97L215.40 161.69L215.73 161.40L216.05 161.11L216.38 160.82L216.71 160.54L217.04 160.25L217.38 159.96L217.72 159.67L218.05 159.38L218.40 159.09L218.74 158.80L219.08 158.51L219.42 158.22L219.77 157.93L220.11 157.64L220.46 157.34L220.81 157.05L221.16 156.76L221.52 156.47L221.88 156.18L222.24 155.88L222.61 155.59L222.98 155.29L223.36 154.99L223.75 154.70L224.14 154.40L224.54 154.10L224.95 153.79L225.37 153.48L225.81 153.16L226.25 152.84L226.71 152.52L227.17 152.19L227.64 151.87L228.11 151.54L228.58 151.22L229.06 150.89L229.53 150.57L230.00 150.26L230.46 149.95L230.92 149.65L231.37 149.35L231.82 149.06L232.25 148.78L232.67 148.51L233.08 148.25L233.47 148.00L233.85 147.76L234.23 147.52L234.59 147.29L234.96 147.07L235.31 146.85L235.67 146.63L236.02 146.41L236.37 146.20L236.72 146.00L237.08 145.79L237.44 145.58L237.81 145.38L238.18 145.17L238.57 144.97L238.95 144.76L239.34 144.56L239.72 144.36L240.11 144.17L240.50 143.98L240.89 143.79L241.28 143.60L241.68 143.41L242.09 143.22L242.50 143.03L242.91 142.84L243.34 142.65L243.77 142.45L244.21 142.26L244.66 142.05L245.12 141.85L245.59 141.64L246.06 141.43L246.54 141.21L247.03 140.99L247.53 140.77L248.03 140.55L248.54 140.33L249.06 140.11L249.59 139.88L250.12 139.65L250.67 139.43L251.22 139.20L251.78 138.97L252.35 138.74L252.93 138.52L253.51 138.29L254.11 138.06L254.72 137.83L255.33 137.61L255.96 137.38L256.60 137.16L257.26 136.94L257.93 136.71L258.63 136.48L259.34 136.25L260.07 136.02L260.81 135.78L261.56 135.55L262.33 135.31L263.11 135.08L263.90 134.84L264.70 134.61L265.51 134.38L266.32 134.14L267.14 133.91L267.97 133.68L268.80 133.45L269.63 133.22L270.46 133.00L271.30 132.77L272.13 132.55L272.96 132.34L273.79 132.12L274.62 131.91L275.44 131.70L276.25 131.50L277.06 131.30L277.86 131.10L278.65 130.91L279.44 130.72L280.22 130.54L281.01 130.36L281.80 130.17L282.59 129.99L283.37 129.81L284.16 129.64L284.95 129.46L285.74 129.29L286.53 129.12L287.32 128.95L288.11 128.78L288.90 128.62L289.69 128.45L290.48 128.29L291.26 128.13L292.05 127.97L292.84 127.82L293.63 127.66L294.41 127.51L295.20 127.36L295.98 127.21L296.77 127.06L297.55 126.91L298.33 126.77L299.11 126.62L299.89 126.48L300.67 126.34L301.44 126.20L302.21 126.07L302.98 125.93L303.74 125.80L304.50 125.67L305.25 125.54L306.00 125.41L306.75 125.28L307.50 125.16L308.24 125.03L308.99 124.91L309.73 124.79L310.48 124.67L311.23 124.55L311.98 124.43L312.73 124.31L313.49 124.19L314.25 124.08L315.02 123.96L315.79 123.85L316.56 123.74L317.34 123.62L318.13 123.51L318.93 123.40L319.73 123.29L320.55 123.18L321.37 123.07L322.20 122.96L323.04 122.85L323.88 122.74L324.73 122.64L325.58 122.53L326.44 122.42L327.30 122.32L328.17 122.21L329.04 122.11L329.92 122.00L330.80 121.90L331.69 121.80L332.59 121.70L333.49 121.59L334.39 121.49L335.30 121.39L336.21 121.29L337.13 121.19L338.05 121.10L338.98 121.00L339.92 120.90L340.85 120.81L341.80 120.71L342.75 120.62L343.70 120.52L344.66 120.43L345.62 120.34L346.59 120.25L347.56 120.15L348.54 120.06L349.52 119.98L350.51 119.89L351.50 119.80" stroke="#008000" stroke-width="1.5" stroke-dasharray="9 2.8" fill="none"/>
<path d="M213.50 163.40L213.84 163.27L214.17 163.14L214.51 163.01L214.84 162.89L215.18 162.76L215.51 162.64L215.85 162.52L216.18 162.39L216.51 162.27L216.84 162.16L217.18 162.04L217.51 161.92L217.84 161.81L218.17 161.70L218.50 161.59L218.83 161.48L219.15 161.37L219.48 161.26L219.81 161.16L220.14 161.06L220.46 160.96L220.78 160.86L221.11 160.76L221.43 160.66L221.74 160.56L222.06 160.47L222.38 160.38L222.70 160.28L223.01 160.19L223.33 160.10L223.65 160.01L223.97 159.93L224.29 159.84L224.62 159.75L224.94 159.67L225.27 159.58L225.60 159.50L225.93 159.42L226.27 159.33L226.61 159.25L226.96 159.17L227.31 159.09L227.66 159.01L228.02 158.93L228.37 158.85L228.73 158.77L229.09 158.69L229.45 158.62L229.81 158.54L230.17 158.47L230.53 158.39L230.88 158.32L231.24 158.25L231.59 158.18L231.93 158.11L232.28 158.04L232.62 157.98L232.95 157.91L233.28 157.85L233.60 157.78L233.92 157.72L234.23 157.66L234.55 157.60L234.85 157.55L235.16 157.49L235.47 157.43L235.77 157.38L236.07 157.32L236.38 157.27L236.68 157.21L236.99 157.16L237.30 157.10L237.61 157.05L237.93 157.00L238.25 156.94L238.57 156.89L238.90 156.83L239.22 156.78L239.54 156.73L239.86 156.68L240.19 156.62L240.51 156.57L240.84 156.52L241.17 156.47L241.50 156.42L241.83 156.37L242.17 156.32L242.51 156.27L242.85 156.22L243.20 156.16L243.56 156.11L243.92 156.06L244.28 156.00L244.66 155.95L245.04 155.89L245.42 155.84L245.81 155.78L246.21 155.72L246.61 155.66L247.01 155.60L247.42 155.54L247.84 155.47L248.26 155.41L248.68 155.35L249.11 155.28L249.54 155.22L249.98 155.15L250.43 155.09L250.88 155.03L251.33 154.96L251.79 154.90L252.26 154.84L252.73 154.78L253.21 154.72L253.70 154.66L254.19 154.61L254.69 154.55L255.19 154.50L255.70 154.45L256.22 154.40L256.74 154.35L257.26 154.30L257.79 154.26L258.33 154.21L258.87 154.16L259.42 154.12L259.97 154.07L260.52 154.03L261.08 153.98L261.65 153.94L262.23 153.90L262.81 153.85L263.39 153.81L263.99 153.77L264.59 153.73L265.20 153.69L265.81 153.65L266.44 153.61L267.07 153.57L267.71 153.53L268.35 153.49L269.01 153.45L269.67 153.42L270.35 153.38L271.03 153.34L271.72 153.31L272.42 153.27L273.13 153.24L273.86 153.20L274.59 153.17L275.33 153.14L276.08 153.11L276.84 153.07L277.62 153.04L278.40 153.01L279.20 152.98L280.01 152.95L280.83 152.92L281.66 152.89L282.51 152.86L283.36 152.83L284.23 152.80L285.10 152.77L285.99 152.74L286.89 152.71L287.81 152.68L288.73 152.66L289.66 152.63L290.61 152.60L291.57 152.57L292.53 152.54L293.51 152.51L294.50 152.49L295.50 152.46L296.52 152.43L297.54 152.40L298.57 152.38L299.62 152.35L300.68 152.32L301.74 152.30L302.82 152.27L303.91 152.25L305.01 152.22L306.12 152.19L307.24 152.17L308.37 152.14L309.51 152.12L310.67 152.10L311.83 152.07L313.01 152.05L314.19 152.02L315.38 152.00L316.59 151.98L317.81 151.95L319.03 151.93L320.27 151.91L321.52 151.89L322.77 151.87L324.04 151.85L325.32 151.83L326.61 151.80L327.91 151.78L329.21 151.77L330.53 151.75L331.86 151.73L333.20 151.71L334.55 151.69L335.91 151.67L337.28 151.65L338.65 151.64L340.04 151.62L341.44 151.60L342.85 151.59L344.27 151.57L345.69 151.56L347.13 151.54L348.58 151.53L350.03 151.51L351.50 151.50" stroke="#0000ff" stroke-width="1.55" stroke-dasharray="2.5 4.3" fill="none"/>
<path d="M213.50 451.50L350.90 451.50" stroke="#ff0000" stroke-width="1.35" fill="none"/>
<path d="M213.50 451.50L214.46 450.91L215.42 450.33L216.38 449.75L217.33 449.17L218.27 448.59L219.21 448.02L220.14 447.45L221.07 446.88L222.00 446.31L222.92 445.75L223.83 445.19L224.74 444.63L225.64 444.08L226.54 443.53L227.43 442.98L228.32 442.43L229.20 441.89L230.08 441.35L230.95 440.81L231.82 440.27L232.68 439.74L233.54 439.21L234.39 438.68L235.23 438.16L236.07 437.64L236.91 437.12L237.74 436.60L238.56 436.09L239.38 435.58L240.20 435.07L241.01 434.56L241.81 434.06L242.61 433.56L243.40 433.07L244.18 432.57L244.96 432.08L245.74 431.59L246.51 431.11L247.27 430.63L248.03 430.15L248.79 429.67L249.53 429.20L250.28 428.72L251.01 428.26L251.74 427.79L252.47 427.33L253.19 426.87L253.90 426.41L254.61 425.96L255.31 425.51L256.01 425.06L256.70 424.61L257.38 424.17L258.05 423.74L258.71 423.31L259.37 422.88L260.01 422.46L260.65 422.04L261.29 421.62L261.91 421.21L262.53 420.80L263.14 420.40L263.75 420.00L264.35 419.60L264.95 419.20L265.55 418.80L266.14 418.41L266.72 418.02L267.30 417.63L267.89 417.24L268.46 416.86L269.04 416.47L269.61 416.09L270.19 415.71L270.76 415.33L271.33 414.95L271.90 414.57L272.47 414.19L273.04 413.81L273.62 413.43L274.19 413.05L274.77 412.67L275.35 412.29L275.93 411.91L276.51 411.52L277.10 411.14L277.69 410.75L278.29 410.37L278.89 409.98L279.49 409.59L280.09 409.20L280.69 408.81L281.29 408.42L281.89 408.03L282.49 407.65L283.09 407.26L283.69 406.87L284.30 406.48L284.90 406.09L285.50 405.70L286.10 405.31L286.70 404.93L287.30 404.54L287.90 404.15L288.50 403.77L289.11 403.38L289.71 403.00L290.31 402.61L290.91 402.23L291.51 401.85L292.11 401.47L292.71 401.09L293.31 400.71L293.91 400.33L294.51 399.95L295.10 399.58L295.70 399.20L296.30 398.83L296.90 398.46L297.50 398.09L298.09 397.72L298.69 397.35L299.29 396.98L299.88 396.62L300.48 396.26L301.07 395.90L301.67 395.54L302.26 395.18L302.85 394.82L303.45 394.47L304.04 394.12L304.63 393.76L305.22 393.41L305.82 393.07L306.41 392.72L307.00 392.37L307.59 392.03L308.18 391.68L308.77 391.34L309.36 391.00L309.95 390.66L310.54 390.31L311.13 389.97L311.72 389.64L312.30 389.30L312.89 388.96L313.48 388.62L314.07 388.28L314.66 387.95L315.25 387.61L315.84 387.27L316.43 386.94L317.02 386.60L317.60 386.26L318.19 385.92L318.78 385.59L319.37 385.25L319.96 384.91L320.55 384.57L321.14 384.24L321.73 383.90L322.32 383.56L322.92 383.21L323.53 382.87L324.14 382.52L324.76 382.16L325.39 381.81L326.01 381.45L326.64 381.09L327.28 380.73L327.92 380.37L328.55 380.01L329.19 379.65L329.83 379.29L330.47 378.93L331.10 378.57L331.74 378.21L332.37 377.86L333.00 377.50L333.62 377.15L334.24 376.80L334.86 376.45L335.47 376.11L336.07 375.77L336.66 375.43L337.25 375.10L337.82 374.77L338.39 374.45L338.94 374.13L339.49 373.82L340.02 373.51L340.54 373.21L341.05 372.92L341.55 372.63L342.03 372.35L342.49 372.08L342.94 371.82L343.38 371.56L343.81 371.30L344.24 371.05L344.66 370.81L345.07 370.56L345.48 370.32L345.88 370.08L346.28 369.85L346.66 369.62L347.04 369.39L347.41 369.17L347.78 368.96L348.14 368.74L348.49 368.53L348.83 368.33L349.16 368.12L349.49 367.93L349.81 367.73L350.12 367.54L350.42 367.36L350.71 367.18L351.00 367.00" stroke="#008000" stroke-width="1.5" stroke-dasharray="9 2.8" fill="none"/>
<path d="M213.50 451.50L214.27 451.44L215.03 451.37L215.79 451.31L216.55 451.25L217.30 451.18L218.05 451.11L218.79 451.05L219.54 450.98L220.27 450.91L221.01 450.84L221.74 450.77L222.47 450.70L223.19 450.63L223.91 450.55L224.63 450.48L225.34 450.41L226.05 450.33L226.75 450.26L227.45 450.18L228.15 450.10L228.84 450.02L229.53 449.95L230.22 449.87L230.90 449.79L231.58 449.71L232.26 449.63L232.93 449.54L233.59 449.46L234.26 449.38L234.92 449.30L235.57 449.21L236.22 449.13L236.87 449.04L237.51 448.96L238.15 448.87L238.79 448.79L239.42 448.70L240.04 448.61L240.65 448.52L241.25 448.42L241.84 448.33L242.43 448.23L243.01 448.13L243.59 448.03L244.16 447.92L244.73 447.82L245.29 447.72L245.85 447.61L246.41 447.50L246.97 447.40L247.53 447.29L248.08 447.19L248.64 447.08L249.20 446.97L249.76 446.87L250.32 446.76L250.89 446.66L251.46 446.55L252.03 446.45L252.61 446.35L253.20 446.25L253.79 446.15L254.39 446.06L254.99 445.96L255.61 445.87L256.23 445.78L256.87 445.69L257.51 445.60L258.15 445.51L258.81 445.42L259.47 445.33L260.13 445.24L260.80 445.15L261.48 445.07L262.16 444.98L262.84 444.89L263.53 444.80L264.22 444.71L264.92 444.63L265.61 444.54L266.31 444.45L267.02 444.37L267.72 444.29L268.42 444.20L269.13 444.12L269.83 444.04L270.54 443.96L271.24 443.88L271.95 443.80L272.65 443.73L273.35 443.65L274.05 443.58L274.74 443.50L275.44 443.43L276.13 443.36L276.81 443.30L277.50 443.23L278.18 443.17L278.85 443.10L279.52 443.04L280.18 442.98L280.84 442.93L281.50 442.87L282.15 442.82L282.80 442.76L283.46 442.71L284.10 442.66L284.75 442.61L285.40 442.56L286.04 442.51L286.68 442.46L287.32 442.41L287.96 442.37L288.60 442.32L289.24 442.28L289.88 442.23L290.51 442.19L291.15 442.14L291.78 442.10L292.42 442.06L293.05 442.02L293.68 441.97L294.32 441.93L294.95 441.89L295.59 441.85L296.22 441.81L296.86 441.77L297.49 441.72L298.13 441.68L298.77 441.64L299.41 441.60L300.05 441.56L300.69 441.51L301.33 441.47L301.97 441.43L302.61 441.39L303.26 441.35L303.90 441.30L304.54 441.26L305.18 441.22L305.83 441.18L306.47 441.14L307.11 441.10L307.75 441.06L308.40 441.02L309.04 440.98L309.68 440.94L310.33 440.90L310.97 440.86L311.61 440.83L312.26 440.79L312.90 440.75L313.54 440.71L314.19 440.67L314.83 440.63L315.47 440.59L316.12 440.55L316.76 440.51L317.40 440.48L318.04 440.44L318.69 440.40L319.33 440.36L319.97 440.32L320.61 440.28L321.26 440.24L321.90 440.20L322.54 440.16L323.20 440.12L323.86 440.08L324.53 440.03L325.21 439.99L325.89 439.94L326.57 439.90L327.26 439.85L327.95 439.81L328.64 439.76L329.34 439.71L330.03 439.67L330.72 439.62L331.41 439.58L332.10 439.53L332.78 439.49L333.46 439.44L334.14 439.40L334.80 439.35L335.46 439.31L336.11 439.27L336.76 439.23L337.39 439.19L338.01 439.15L338.63 439.12L339.22 439.08L339.81 439.05L340.38 439.02L340.94 438.99L341.48 438.96L342.00 438.94L342.51 438.91L343.00 438.89L343.47 438.87L343.95 438.85L344.41 438.83L344.86 438.81L345.31 438.79L345.75 438.77L346.18 438.76L346.61 438.74L347.02 438.72L347.43 438.71L347.83 438.69L348.22 438.68L348.60 438.66L348.97 438.65L349.33 438.64L349.68 438.63L350.03 438.62L350.36 438.61L350.69 438.61L351.00 438.60" stroke="#0000ff" stroke-width="1.55" stroke-dasharray="2.5 4.3" fill="none"/>
<path d="M213.50 451.50L214.55 450.81L215.58 450.13L216.59 449.46L217.58 448.81L218.55 448.17L219.50 447.54L220.43 446.93L221.33 446.34L222.22 445.76L223.09 445.19L223.93 444.64L224.75 444.10L225.55 443.57L226.33 443.07L227.09 442.57L227.83 442.10L228.54 441.64L229.23 441.19L229.90 440.76L230.54 440.35L231.16 439.95L231.76 439.57L232.34 439.20L232.89 438.86L233.42 438.52L233.92 438.21L234.40 437.91L234.84 437.64L235.25 437.39L235.63 437.15L236.00 436.93L236.34 436.72L236.68 436.51L237.02 436.31L237.35 436.10L237.69 435.90L238.05 435.69L238.42 435.46L238.82 435.23L239.22 434.99L239.63 434.75L240.04 434.52L240.46 434.28L240.88 434.04L241.30 433.79L241.74 433.55L242.18 433.30L242.62 433.05L243.08 432.79L243.54 432.53L244.01 432.26L244.49 431.99L244.99 431.71L245.49 431.42L246.00 431.13L246.52 430.83L247.04 430.52L247.58 430.21L248.12 429.90L248.67 429.58L249.23 429.25L249.80 428.92L250.38 428.58L250.97 428.25L251.57 427.90L252.18 427.56L252.81 427.21L253.44 426.85L254.08 426.50L254.74 426.14L255.40 425.77L256.08 425.41L256.78 425.04L257.51 424.65L258.28 424.24L259.06 423.82L259.88 423.39L260.71 422.95L261.57 422.50L262.44 422.04L263.32 421.58L264.22 421.12L265.13 420.65L266.04 420.19L266.96 419.72L267.88 419.26L268.80 418.80L269.72 418.35L270.63 417.91L271.54 417.48L272.43 417.06L273.31 416.65L274.18 416.26L275.03 415.89L275.86 415.53L276.66 415.19L277.44 414.88L278.20 414.59L278.92 414.32L279.63 414.07L280.32 413.82L280.99 413.59L281.65 413.36L282.30 413.14L282.95 412.93L283.58 412.73L284.20 412.53L284.82 412.34L285.43 412.16L286.04 411.97L286.64 411.79L287.24 411.62L287.84 411.45L288.44 411.27L289.05 411.11L289.65 410.94L290.26 410.77L290.87 410.60L291.48 410.42L292.09 410.25L292.69 410.08L293.29 409.91L293.89 409.74L294.48 409.58L295.07 409.41L295.67 409.25L296.26 409.10L296.85 408.94L297.44 408.80L298.03 408.66L298.63 408.53L299.22 408.40L299.82 408.29L300.42 408.18L301.02 408.08L301.62 407.99L302.23 407.89L302.83 407.80L303.44 407.72L304.04 407.63L304.65 407.55L305.26 407.47L305.87 407.39L306.47 407.32L307.08 407.25L307.69 407.18L308.30 407.12L308.91 407.07L309.52 407.02L310.13 406.97L310.74 406.93L311.34 406.90L311.95 406.87L312.56 406.85L313.17 406.82L313.78 406.80L314.39 406.77L315.00 406.75L315.61 406.73L316.22 406.70L316.83 406.68L317.44 406.67L318.04 406.65L318.65 406.64L319.26 406.62L319.87 406.61L320.48 406.61L321.09 406.60L321.70 406.60L322.31 406.60L322.92 406.60L323.53 406.61L324.14 406.61L324.75 406.62L325.36 406.63L325.97 406.64L326.58 406.65L327.19 406.66L327.80 406.67L328.41 406.69L329.02 406.70L329.63 406.72L330.24 406.74L330.84 406.75L331.45 406.77L332.06 406.79L332.67 406.81L333.28 406.83L333.89 406.86L334.51 406.90L335.12 406.94L335.74 406.98L336.36 407.03L336.98 407.07L337.59 407.13L338.21 407.18L338.82 407.23L339.42 407.29L340.03 407.35L340.62 407.40L341.22 407.46L341.80 407.51L342.38 407.56L342.95 407.61L343.52 407.66L344.08 407.71L344.63 407.76L345.19 407.81L345.74 407.87L346.28 407.92L346.82 407.97L347.36 408.02L347.89 408.08L348.42 408.13L348.95 408.18L349.47 408.24L349.98 408.29L350.49 408.35L351.00 408.40" stroke="#008000" stroke-width="1.5" stroke-dasharray="9 2.8" fill="none"/>
<path d="M213.50 451.50L214.48 451.44L215.45 451.38L216.40 451.32L217.34 451.26L218.27 451.20L219.18 451.14L220.08 451.08L220.97 451.02L221.84 450.96L222.69 450.90L223.54 450.84L224.36 450.79L225.17 450.73L225.97 450.67L226.76 450.61L227.52 450.56L228.28 450.50L229.01 450.45L229.74 450.39L230.44 450.34L231.14 450.28L231.81 450.23L232.47 450.17L233.12 450.12L233.75 450.07L234.36 450.01L234.96 449.96L235.54 449.91L236.11 449.86L236.66 449.80L237.19 449.75L237.71 449.70L238.21 449.65L238.69 449.60L239.16 449.55L239.59 449.50L240.00 449.46L240.39 449.41L240.76 449.37L241.11 449.33L241.46 449.28L241.79 449.24L242.13 449.20L242.45 449.15L242.79 449.11L243.12 449.06L243.46 449.01L243.82 448.97L244.18 448.91L244.57 448.86L244.97 448.80L245.40 448.74L245.82 448.68L246.25 448.61L246.69 448.54L247.13 448.47L247.58 448.39L248.04 448.32L248.50 448.24L248.97 448.15L249.44 448.07L249.92 447.99L250.41 447.90L250.90 447.82L251.41 447.73L251.91 447.64L252.43 447.56L252.95 447.47L253.48 447.39L254.02 447.30L254.56 447.22L255.12 447.14L255.68 447.06L256.24 446.98L256.83 446.90L257.42 446.82L258.04 446.74L258.66 446.66L259.30 446.58L259.95 446.50L260.62 446.42L261.29 446.34L261.97 446.26L262.67 446.18L263.37 446.09L264.08 446.01L264.79 445.93L265.52 445.85L266.24 445.77L266.98 445.69L267.71 445.61L268.45 445.54L269.19 445.46L269.94 445.38L270.68 445.31L271.43 445.24L272.17 445.16L272.91 445.09L273.65 445.02L274.39 444.96L275.12 444.89L275.85 444.83L276.57 444.77L277.29 444.71L278.00 444.65L278.70 444.60L279.40 444.55L280.10 444.50L280.80 444.45L281.49 444.40L282.19 444.35L282.89 444.30L283.59 444.26L284.29 444.21L284.99 444.17L285.69 444.13L286.39 444.08L287.09 444.04L287.79 444.00L288.49 443.96L289.18 443.92L289.88 443.88L290.58 443.84L291.28 443.80L291.97 443.77L292.67 443.73L293.36 443.69L294.06 443.66L294.75 443.62L295.45 443.58L296.14 443.55L296.83 443.51L297.52 443.48L298.21 443.44L298.90 443.40L299.59 443.37L300.28 443.33L300.97 443.30L301.65 443.26L302.34 443.22L303.02 443.19L303.70 443.15L304.38 443.12L305.06 443.08L305.74 443.05L306.42 443.01L307.10 442.98L307.78 442.94L308.46 442.91L309.13 442.88L309.81 442.84L310.48 442.81L311.16 442.78L311.83 442.74L312.51 442.71L313.18 442.68L313.86 442.65L314.53 442.62L315.20 442.59L315.88 442.56L316.55 442.53L317.23 442.50L317.90 442.47L318.57 442.44L319.25 442.41L319.92 442.38L320.60 442.35L321.27 442.32L321.95 442.30L322.63 442.27L323.32 442.24L324.03 442.22L324.73 442.19L325.45 442.16L326.17 442.13L326.89 442.11L327.62 442.08L328.35 442.05L329.08 442.02L329.81 441.99L330.54 441.97L331.27 441.94L332.00 441.91L332.72 441.89L333.44 441.86L334.15 441.84L334.85 441.81L335.55 441.79L336.23 441.77L336.91 441.75L337.57 441.73L338.23 441.71L338.86 441.69L339.49 441.67L340.10 441.66L340.69 441.64L341.26 441.63L341.82 441.62L342.35 441.61L342.87 441.60L343.37 441.59L343.86 441.58L344.35 441.58L344.82 441.57L345.29 441.56L345.75 441.55L346.20 441.55L346.64 441.54L347.07 441.53L347.49 441.53L347.90 441.52L348.30 441.52L348.68 441.51L349.06 441.51L349.43 441.51L349.79 441.50L350.14 441.50L350.47 441.50L350.80 441.50" stroke="#0000ff" stroke-width="1.55" stroke-dasharray="2.5 4.3" fill="none"/>
<g fill="#008000"><circle cx="351.50" cy="119.80" r="2.95"/><circle cx="279.11" cy="130.80" r="2.95"/><circle cx="256.49" cy="137.20" r="2.95"/><circle cx="245.44" cy="141.70" r="2.95"/><circle cx="238.89" cy="144.79" r="2.95"/><circle cx="234.56" cy="147.31" r="2.95"/><circle cx="231.48" cy="149.28" r="2.95"/><circle cx="229.19" cy="150.81" r="2.95"/><circle cx="227.40" cy="152.03" r="2.95"/><circle cx="225.98" cy="153.04" r="2.95"/><circle cx="224.82" cy="153.89" r="2.95"/><circle cx="223.85" cy="154.62" r="2.95"/><circle cx="223.03" cy="155.25" r="2.95"/><circle cx="222.33" cy="155.81" r="2.95"/><circle cx="221.73" cy="156.30" r="2.95"/><circle cx="221.20" cy="156.73" r="2.95"/><circle cx="220.73" cy="157.12" r="2.95"/><circle cx="219.61" cy="158.06" r="2.95"/><circle cx="218.55" cy="158.95" r="2.95"/><circle cx="217.80" cy="159.59" r="2.95"/><circle cx="217.24" cy="160.08" r="2.95"/><circle cx="216.80" cy="160.46" r="2.95"/></g>
<g fill="#0000ff"><circle cx="351.50" cy="151.50" r="2.95"/><circle cx="279.11" cy="152.98" r="2.95"/><circle cx="256.49" cy="154.37" r="2.95"/><circle cx="245.44" cy="155.84" r="2.95"/><circle cx="238.89" cy="156.83" r="2.95"/><circle cx="234.56" cy="157.60" r="2.95"/><circle cx="231.48" cy="158.20" r="2.95"/><circle cx="229.19" cy="158.67" r="2.95"/><circle cx="227.40" cy="159.07" r="2.95"/><circle cx="225.98" cy="159.41" r="2.95"/><circle cx="224.82" cy="159.70" r="2.95"/><circle cx="223.85" cy="159.96" r="2.95"/><circle cx="223.03" cy="160.19" r="2.95"/><circle cx="222.33" cy="160.39" r="2.95"/><circle cx="221.73" cy="160.57" r="2.95"/><circle cx="221.20" cy="160.73" r="2.95"/><circle cx="220.73" cy="160.87" r="2.95"/><circle cx="219.61" cy="161.22" r="2.95"/><circle cx="218.55" cy="161.57" r="2.95"/><circle cx="217.80" cy="161.82" r="2.95"/><circle cx="217.24" cy="162.02" r="2.95"/><circle cx="216.80" cy="162.17" r="2.95"/></g>
<g fill="#008000"><circle cx="350.71" cy="408.37" r="2.95"/><circle cx="278.55" cy="414.46" r="2.95"/><circle cx="256.15" cy="425.37" r="2.95"/><circle cx="245.24" cy="431.56" r="2.95"/><circle cx="238.78" cy="435.25" r="2.95"/><circle cx="234.52" cy="437.84" r="2.95"/><circle cx="231.48" cy="439.75" r="2.95"/><circle cx="229.22" cy="441.20" r="2.95"/><circle cx="227.47" cy="442.33" r="2.95"/><circle cx="226.06" cy="443.24" r="2.95"/><circle cx="224.92" cy="443.99" r="2.95"/><circle cx="223.97" cy="444.61" r="2.95"/><circle cx="223.17" cy="445.14" r="2.95"/><circle cx="222.48" cy="445.59" r="2.95"/><circle cx="221.88" cy="445.98" r="2.95"/><circle cx="221.36" cy="446.32" r="2.95"/><circle cx="220.90" cy="446.62" r="2.95"/><circle cx="219.80" cy="447.35" r="2.95"/><circle cx="218.76" cy="448.03" r="2.95"/><circle cx="218.02" cy="448.52" r="2.95"/><circle cx="217.47" cy="448.88" r="2.95"/><circle cx="217.04" cy="449.17" r="2.95"/></g>
<g fill="#0000ff"><circle cx="350.71" cy="441.50" r="2.95"/><circle cx="278.55" cy="444.61" r="2.95"/><circle cx="256.15" cy="446.99" r="2.95"/><circle cx="245.24" cy="448.77" r="2.95"/><circle cx="238.78" cy="449.59" r="2.95"/><circle cx="234.52" cy="450.00" r="2.95"/><circle cx="231.48" cy="450.25" r="2.95"/><circle cx="229.22" cy="450.43" r="2.95"/><circle cx="227.47" cy="450.56" r="2.95"/><circle cx="226.06" cy="450.66" r="2.95"/><circle cx="224.92" cy="450.75" r="2.95"/><circle cx="223.97" cy="450.81" r="2.95"/><circle cx="223.17" cy="450.87" r="2.95"/><circle cx="222.48" cy="450.92" r="2.95"/><circle cx="221.88" cy="450.96" r="2.95"/><circle cx="221.36" cy="450.99" r="2.95"/><circle cx="220.90" cy="451.02" r="2.95"/><circle cx="219.80" cy="451.10" r="2.95"/><circle cx="218.76" cy="451.16" r="2.95"/><circle cx="218.02" cy="451.21" r="2.95"/><circle cx="217.47" cy="451.25" r="2.95"/><circle cx="217.04" cy="451.28" r="2.95"/></g>
<rect x="73.65" y="57.00" width="297.85" height="572.00" stroke="#000" stroke-width="1.4" fill="none"/>
<path d="M73.65 342.90H371.50" stroke="#000" stroke-width="1.4" fill="none"/>
<path d="M162.93 629.00v-6.30M162.93 57.00v6.30M252.21 629.00v-6.30M252.21 57.00v6.30M341.49 629.00v-6.30M341.49 57.00v6.30M118.29 629.00v-3.40M118.29 57.00v3.40M207.57 629.00v-3.40M207.57 57.00v3.40M296.85 629.00v-3.40M296.85 57.00v3.40M73.65 317.75h6.30M371.50 317.75h-6.30M73.65 215.45h6.30M371.50 215.45h-6.30M73.65 113.15h6.30M371.50 113.15h-6.30M73.65 266.60h3.40M371.50 266.60h-3.40M73.65 164.30h3.40M371.50 164.30h-3.40M73.65 62.00h3.40M371.50 62.00h-3.40M73.65 600.55h6.30M371.50 600.55h-6.30M73.65 486.15h6.30M371.50 486.15h-6.30M73.65 371.75h6.30M371.50 371.75h-6.30M73.65 543.35h3.40M371.50 543.35h-3.40M73.65 428.95h3.40M371.50 428.95h-3.40" stroke="#000" stroke-width="1.05" fill="none"/>
<rect x="213.40" y="75.60" width="143.00" height="97.45" stroke="#000" stroke-width="1.3" fill="none"/>
<rect x="213.40" y="363.50" width="143.00" height="97.45" stroke="#000" stroke-width="1.3" fill="none"/>
<path d="M256.30 173.05v-6.30M256.30 75.60v6.30M299.30 173.05v-6.30M299.30 75.60v6.30M342.30 173.05v-6.30M342.30 75.60v6.30M213.40 85.40h6.30M356.40 85.40h-6.30M213.40 124.40h6.30M356.40 124.40h-6.30M213.40 163.40h6.30M356.40 163.40h-6.30M213.40 104.90h3.40M356.40 104.90h-3.40M213.40 143.90h3.40M356.40 143.90h-3.40M252.30 460.95v-6.30M252.30 363.50v6.30M290.80 460.95v-6.30M290.80 363.50v6.30M329.30 460.95v-6.30M329.30 363.50v6.30M213.40 373.40h6.30M356.40 373.40h-6.30M213.40 412.45h6.30M356.40 412.45h-6.30M213.40 451.50h6.30M356.40 451.50h-6.30M213.40 392.90h3.40M356.40 392.90h-3.40M213.40 432.00h3.40M356.40 432.00h-3.40" stroke="#000" stroke-width="1.05" fill="none"/>
<g style="will-change:transform;filter:grayscale(1)" font-family="'Liberation Serif', serif" fill="#000" stroke="#000" stroke-width="0.22">
<text x="162.93" y="43.80" text-anchor="middle" font-size="20.60" >3</text>
<text x="252.21" y="43.80" text-anchor="middle" font-size="20.60" >6</text>
<text x="341.49" y="43.80" text-anchor="middle" font-size="20.60" >9</text>
<text x="73.65" y="656.60" text-anchor="middle" font-size="20.60" >0</text>
<text x="162.93" y="656.60" text-anchor="middle" font-size="20.60" >0.3</text>
<text x="252.21" y="656.60" text-anchor="middle" font-size="20.60" >0.6</text>
<text x="341.49" y="656.60" text-anchor="middle" font-size="20.60" >0.9</text>
<text x="61.00" y="324.75" text-anchor="end" font-size="20.60" >0</text>
<text x="61.00" y="222.45" text-anchor="end" font-size="20.60" >2</text>
<text x="61.00" y="120.15" text-anchor="end" font-size="20.60" >4</text>
<text x="61.00" y="607.55" text-anchor="end" font-size="20.60" >0</text>
<text x="61.00" y="493.15" text-anchor="end" font-size="20.60" >2</text>
<text x="61.00" y="378.75" text-anchor="end" font-size="20.60" >4</text>
<text x="201.00" y="92.40" text-anchor="end" font-size="20.60" >0.8</text>
<text x="201.00" y="131.40" text-anchor="end" font-size="20.60" >0.4</text>
<text x="201.00" y="170.40" text-anchor="end" font-size="20.60" >0</text>
<text x="256.30" y="199.60" text-anchor="middle" font-size="20.60" >3</text>
<text x="342.30" y="199.60" text-anchor="middle" font-size="20.60" >9</text>
<text x="201.00" y="380.40" text-anchor="end" font-size="20.60" >4</text>
<text x="201.00" y="419.45" text-anchor="end" font-size="20.60" >2</text>
<text x="201.00" y="458.50" text-anchor="end" font-size="20.60" >0</text>
<text x="252.00" y="488.00" text-anchor="middle" font-size="20.60" >0.3</text>
<text x="329.60" y="488.00" text-anchor="middle" font-size="20.60" >0.9</text>
</g>
<g style="will-change:transform;filter:grayscale(1)" font-family="'Liberation Serif', serif" fill="#1a1a1a">
<text x="200.50" y="683.90" text-anchor="start" font-size="18.80" font-style="italic" >d</text>
<path d="M214.40 700.40L224.40 672.30" stroke="#1a1a1a" stroke-width="0.95" stroke-linecap="round" fill="none"/>
<path transform="translate(227.60 702.30) rotate(0)" d="M0.00 0.00L7.20 -12.20L14.40 0.00ZM1.46 -1.10L6.50 -9.64L11.54 -1.10Z" fill="#1a1a1a" fill-rule="evenodd"/>
<path transform="translate(231.00 686.80) rotate(0)" d="M0 0.49C1.19 -1.09 2.11 -0.89 3.30 0.00S5.41 1.09 6.60 -0.49" fill="none" stroke="#1a1a1a" stroke-width="0.80" stroke-linecap="round"/>
<text x="266.50" y="200.00" text-anchor="start" font-size="13.80" font-style="italic" >d</text>
<path d="M278.10 214.80L286.80 191.20" stroke="#1a1a1a" stroke-width="0.85" stroke-linecap="round" fill="none"/>
<path transform="translate(289.00 215.30) rotate(0)" d="M0.00 0.00L5.95 -10.00L11.90 0.00ZM1.26 -0.95L5.40 -7.90L9.53 -0.95Z" fill="#1a1a1a" fill-rule="evenodd"/>
<path transform="translate(292.20 201.50) rotate(0)" d="M0 0.43C1.03 -0.94 1.82 -0.77 2.85 0.00S4.67 0.94 5.70 -0.43" fill="none" stroke="#1a1a1a" stroke-width="0.75" stroke-linecap="round"/>
<text x="266.50" y="488.00" text-anchor="start" font-size="13.80" font-style="italic" >d</text>
<path d="M278.10 502.80L286.80 479.20" stroke="#1a1a1a" stroke-width="0.85" stroke-linecap="round" fill="none"/>
<path transform="translate(289.00 503.30) rotate(0)" d="M0.00 0.00L5.95 -10.00L11.90 0.00ZM1.26 -0.95L5.40 -7.90L9.53 -0.95Z" fill="#1a1a1a" fill-rule="evenodd"/>
<path transform="translate(292.20 489.50) rotate(0)" d="M0 0.43C1.03 -0.94 1.82 -0.77 2.85 0.00S4.67 0.94 5.70 -0.43" fill="none" stroke="#1a1a1a" stroke-width="0.75" stroke-linecap="round"/>
</g>
<path transform="translate(163.00 140.30) rotate(-90)" d="M0.00 0.00L8.40 -18.60L16.80 0.00ZM1.39 -1.25L7.66 -15.14L13.93 -1.25Z" fill="#1a1a1a" fill-rule="evenodd"/>
<path transform="translate(163.40 120.90) rotate(-90) scale(16.667 17.500)" d="M0.730 -0.915L0.725 -0.922L0.720 -0.930L0.713 -0.938L0.706 -0.946L0.697 -0.954L0.688 -0.962L0.678 -0.969L0.667 -0.976L0.655 -0.982L0.643 -0.988L0.629 -0.993L0.615 -0.997L0.600 -0.999L0.585 -1.001L0.569 -1.001L0.552 -1.000L0.535 -0.998L0.518 -0.995L0.501 -0.991L0.483 -0.986L0.466 -0.981L0.450 -0.974L0.433 -0.968L0.418 -0.960L0.402 -0.953L0.388 -0.944L0.374 -0.935L0.360 -0.926L0.347 -0.916L0.334 -0.905L0.322 -0.893L0.310 -0.881L0.298 -0.868L0.287 -0.854L0.277 -0.840L0.267 -0.826L0.259 -0.811L0.251 -0.795L0.245 -0.780L0.241 -0.764L0.238 -0.749L0.237 -0.734L0.238 -0.718L0.241 -0.704L0.245 -0.689L0.251 -0.675L0.259 -0.662L0.268 -0.649L0.278 -0.637L0.289 -0.625L0.301 -0.614L0.314 -0.604L0.328 -0.595L0.342 -0.586L0.357 -0.579L0.373 -0.573L0.388 -0.567L0.404 -0.563L0.420 -0.560M0.420 -0.560L0.403 -0.557L0.385 -0.553L0.367 -0.548L0.348 -0.543L0.328 -0.537L0.308 -0.530L0.287 -0.522L0.266 -0.513L0.245 -0.503L0.224 -0.492L0.203 -0.479L0.182 -0.465L0.161 -0.450L0.141 -0.434L0.122 -0.416L0.104 -0.397L0.088 -0.376L0.073 -0.355L0.061 -0.333L0.051 -0.309L0.044 -0.285L0.039 -0.261L0.037 -0.236L0.038 -0.212L0.041 -0.189L0.047 -0.166L0.055 -0.145L0.066 -0.125L0.080 -0.106L0.095 -0.089L0.112 -0.073L0.131 -0.059L0.152 -0.046L0.173 -0.035L0.196 -0.025L0.220 -0.017L0.244 -0.012L0.269 -0.009L0.294 -0.009L0.319 -0.011L0.344 -0.016L0.369 -0.024L0.394 -0.033L0.419 -0.044L0.443 -0.057L0.467 -0.070L0.490 -0.085L0.512 -0.100L0.533 -0.116L0.553 -0.132L0.572 -0.148L0.590 -0.165L0.607 -0.182L0.622 -0.199L0.635 -0.215L0.647 -0.232L0.656 -0.248L0.664 -0.264L0.670 -0.280" fill="none" stroke="#1a1a1a" stroke-linecap="round" stroke-linejoin="round" vector-effect="non-scaling-stroke" stroke-width="0.83"/>
<path transform="translate(163.40 120.90) rotate(-90) scale(16.667 17.500)" d="M0.450 -0.974L0.433 -0.968L0.418 -0.960L0.402 -0.953L0.388 -0.944L0.374 -0.935L0.360 -0.926L0.347 -0.916L0.334 -0.905L0.322 -0.893L0.310 -0.881L0.298 -0.868L0.287 -0.854L0.277 -0.840L0.267 -0.826L0.259 -0.811L0.251 -0.795L0.245 -0.780L0.241 -0.764L0.238 -0.749L0.237 -0.734L0.238 -0.718M0.182 -0.465L0.161 -0.450L0.141 -0.434L0.122 -0.416L0.104 -0.397L0.088 -0.376L0.073 -0.355L0.061 -0.333L0.051 -0.309L0.044 -0.285L0.039 -0.261L0.037 -0.236L0.038 -0.212L0.041 -0.189L0.047 -0.166L0.055 -0.145L0.066 -0.125L0.080 -0.106L0.095 -0.089L0.112 -0.073" fill="none" stroke="#1a1a1a" stroke-linecap="round" stroke-linejoin="round" vector-effect="non-scaling-stroke" stroke-width="1.67"/>
<path transform="translate(163.40 120.90) rotate(-90) scale(16.667 17.500)" d="M0.552 -1.000L0.535 -0.998L0.518 -0.995L0.501 -0.991L0.483 -0.986L0.466 -0.981L0.450 -0.974L0.433 -0.968L0.418 -0.960L0.402 -0.953L0.388 -0.944L0.374 -0.935L0.360 -0.926L0.347 -0.916L0.334 -0.905L0.322 -0.893L0.310 -0.881L0.298 -0.868L0.287 -0.854L0.277 -0.840L0.267 -0.826L0.259 -0.811L0.251 -0.795L0.245 -0.780L0.241 -0.764L0.238 -0.749L0.237 -0.734L0.238 -0.718L0.241 -0.704L0.245 -0.689L0.251 -0.675L0.259 -0.662L0.268 -0.649L0.278 -0.637M0.287 -0.522L0.266 -0.513L0.245 -0.503L0.224 -0.492L0.203 -0.479L0.182 -0.465L0.161 -0.450L0.141 -0.434L0.122 -0.416L0.104 -0.397L0.088 -0.376L0.073 -0.355L0.061 -0.333L0.051 -0.309L0.044 -0.285L0.039 -0.261L0.037 -0.236L0.038 -0.212L0.041 -0.189L0.047 -0.166L0.055 -0.145L0.066 -0.125L0.080 -0.106L0.095 -0.089L0.112 -0.073L0.131 -0.059L0.152 -0.046L0.173 -0.035L0.196 -0.025L0.220 -0.017L0.244 -0.012" fill="none" stroke="#1a1a1a" stroke-linecap="round" stroke-linejoin="round" vector-effect="non-scaling-stroke" stroke-width="1.26"/>
<circle transform="translate(163.40 120.90) rotate(-90) scale(16.667 17.500)" cx="0.742" cy="-0.895" r="0.052" fill="#1a1a1a"/>
<path transform="translate(178.60 428.40) rotate(-90)" d="M0.00 0.00L8.40 -18.60L16.80 0.00ZM1.39 -1.25L7.66 -15.14L13.93 -1.25Z" fill="#1a1a1a" fill-rule="evenodd"/>
<path transform="translate(179.20 410.50) rotate(-90) scale(16.667 17.500)" d="M0.730 -0.915L0.725 -0.922L0.720 -0.930L0.713 -0.938L0.706 -0.946L0.697 -0.954L0.688 -0.962L0.678 -0.969L0.667 -0.976L0.655 -0.982L0.643 -0.988L0.629 -0.993L0.615 -0.997L0.600 -0.999L0.585 -1.001L0.569 -1.001L0.552 -1.000L0.535 -0.998L0.518 -0.995L0.501 -0.991L0.483 -0.986L0.466 -0.981L0.450 -0.974L0.433 -0.968L0.418 -0.960L0.402 -0.953L0.388 -0.944L0.374 -0.935L0.360 -0.926L0.347 -0.916L0.334 -0.905L0.322 -0.893L0.310 -0.881L0.298 -0.868L0.287 -0.854L0.277 -0.840L0.267 -0.826L0.259 -0.811L0.251 -0.795L0.245 -0.780L0.241 -0.764L0.238 -0.749L0.237 -0.734L0.238 -0.718L0.241 -0.704L0.245 -0.689L0.251 -0.675L0.259 -0.662L0.268 -0.649L0.278 -0.637L0.289 -0.625L0.301 -0.614L0.314 -0.604L0.328 -0.595L0.342 -0.586L0.357 -0.579L0.373 -0.573L0.388 -0.567L0.404 -0.563L0.420 -0.560M0.420 -0.560L0.403 -0.557L0.385 -0.553L0.367 -0.548L0.348 -0.543L0.328 -0.537L0.308 -0.530L0.287 -0.522L0.266 -0.513L0.245 -0.503L0.224 -0.492L0.203 -0.479L0.182 -0.465L0.161 -0.450L0.141 -0.434L0.122 -0.416L0.104 -0.397L0.088 -0.376L0.073 -0.355L0.061 -0.333L0.051 -0.309L0.044 -0.285L0.039 -0.261L0.037 -0.236L0.038 -0.212L0.041 -0.189L0.047 -0.166L0.055 -0.145L0.066 -0.125L0.080 -0.106L0.095 -0.089L0.112 -0.073L0.131 -0.059L0.152 -0.046L0.173 -0.035L0.196 -0.025L0.220 -0.017L0.244 -0.012L0.269 -0.009L0.294 -0.009L0.319 -0.011L0.344 -0.016L0.369 -0.024L0.394 -0.033L0.419 -0.044L0.443 -0.057L0.467 -0.070L0.490 -0.085L0.512 -0.100L0.533 -0.116L0.553 -0.132L0.572 -0.148L0.590 -0.165L0.607 -0.182L0.622 -0.199L0.635 -0.215L0.647 -0.232L0.656 -0.248L0.664 -0.264L0.670 -0.280" fill="none" stroke="#1a1a1a" stroke-linecap="round" stroke-linejoin="round" vector-effect="non-scaling-stroke" stroke-width="0.83"/>
<path transform="translate(179.20 410.50) rotate(-90) scale(16.667 17.500)" d="M0.450 -0.974L0.433 -0.968L0.418 -0.960L0.402 -0.953L0.388 -0.944L0.374 -0.935L0.360 -0.926L0.347 -0.916L0.334 -0.905L0.322 -0.893L0.310 -0.881L0.298 -0.868L0.287 -0.854L0.277 -0.840L0.267 -0.826L0.259 -0.811L0.251 -0.795L0.245 -0.780L0.241 -0.764L0.238 -0.749L0.237 -0.734L0.238 -0.718M0.182 -0.465L0.161 -0.450L0.141 -0.434L0.122 -0.416L0.104 -0.397L0.088 -0.376L0.073 -0.355L0.061 -0.333L0.051 -0.309L0.044 -0.285L0.039 -0.261L0.037 -0.236L0.038 -0.212L0.041 -0.189L0.047 -0.166L0.055 -0.145L0.066 -0.125L0.080 -0.106L0.095 -0.089L0.112 -0.073" fill="none" stroke="#1a1a1a" stroke-linecap="round" stroke-linejoin="round" vector-effect="non-scaling-stroke" stroke-width="1.67"/>
<path transform="translate(179.20 410.50) rotate(-90) scale(16.667 17.500)" d="M0.552 -1.000L0.535 -0.998L0.518 -0.995L0.501 -0.991L0.483 -0.986L0.466 -0.981L0.450 -0.974L0.433 -0.968L0.418 -0.960L0.402 -0.953L0.388 -0.944L0.374 -0.935L0.360 -0.926L0.347 -0.916L0.334 -0.905L0.322 -0.893L0.310 -0.881L0.298 -0.868L0.287 -0.854L0.277 -0.840L0.267 -0.826L0.259 -0.811L0.251 -0.795L0.245 -0.780L0.241 -0.764L0.238 -0.749L0.237 -0.734L0.238 -0.718L0.241 -0.704L0.245 -0.689L0.251 -0.675L0.259 -0.662L0.268 -0.649L0.278 -0.637M0.287 -0.522L0.266 -0.513L0.245 -0.503L0.224 -0.492L0.203 -0.479L0.182 -0.465L0.161 -0.450L0.141 -0.434L0.122 -0.416L0.104 -0.397L0.088 -0.376L0.073 -0.355L0.061 -0.333L0.051 -0.309L0.044 -0.285L0.039 -0.261L0.037 -0.236L0.038 -0.212L0.041 -0.189L0.047 -0.166L0.055 -0.145L0.066 -0.125L0.080 -0.106L0.095 -0.089L0.112 -0.073L0.131 -0.059L0.152 -0.046L0.173 -0.035L0.196 -0.025L0.220 -0.017L0.244 -0.012" fill="none" stroke="#1a1a1a" stroke-linecap="round" stroke-linejoin="round" vector-effect="non-scaling-stroke" stroke-width="1.26"/>
<circle transform="translate(179.20 410.50) rotate(-90) scale(16.667 17.500)" cx="0.742" cy="-0.895" r="0.052" fill="#1a1a1a"/>
<g style="will-change:transform;filter:grayscale(1)" font-family="'Liberation Serif', serif" fill="#1a1a1a">
<text transform="translate(23.1 236.30) rotate(-90)" font-size="14.6" font-style="italic" letter-spacing="2.5" fill="#2a2a2a">HF</text>
</g>
<path transform="translate(19.80 254.60) rotate(-90)" d="M6.40 -15.80C1.92 -12.52 0.00 -8.83 0.00 -5.55C0.00 -2.27 1.92 1.42 6.40 4.70C2.69 1.21 1.35 -2.27 1.35 -5.55C1.35 -8.83 2.69 -12.32 6.40 -15.80Z" fill="#1a1a1a" stroke="#1a1a1a" stroke-width="0.45" stroke-linejoin="round"/>
<path transform="translate(19.80 184.40) rotate(-90)" d="M0.00 -15.80C4.48 -12.52 6.40 -8.83 6.40 -5.55C6.40 -2.27 4.48 1.42 0.00 4.70C3.71 1.21 5.05 -2.27 5.05 -5.55C5.05 -8.83 3.71 -12.32 0.00 -15.80Z" fill="#1a1a1a" stroke="#1a1a1a" stroke-width="0.45" stroke-linejoin="round"/>
<path transform="translate(19.80 247.30) rotate(-90) scale(12.821 14.500)" d="M0.730 -0.915L0.725 -0.922L0.720 -0.930L0.713 -0.938L0.706 -0.946L0.697 -0.954L0.688 -0.962L0.678 -0.969L0.667 -0.976L0.655 -0.982L0.643 -0.988L0.629 -0.993L0.615 -0.997L0.600 -0.999L0.585 -1.001L0.569 -1.001L0.552 -1.000L0.535 -0.998L0.518 -0.995L0.501 -0.991L0.483 -0.986L0.466 -0.981L0.450 -0.974L0.433 -0.968L0.418 -0.960L0.402 -0.953L0.388 -0.944L0.374 -0.935L0.360 -0.926L0.347 -0.916L0.334 -0.905L0.322 -0.893L0.310 -0.881L0.298 -0.868L0.287 -0.854L0.277 -0.840L0.267 -0.826L0.259 -0.811L0.251 -0.795L0.245 -0.780L0.241 -0.764L0.238 -0.749L0.237 -0.734L0.238 -0.718L0.241 -0.704L0.245 -0.689L0.251 -0.675L0.259 -0.662L0.268 -0.649L0.278 -0.637L0.289 -0.625L0.301 -0.614L0.314 -0.604L0.328 -0.595L0.342 -0.586L0.357 -0.579L0.373 -0.573L0.388 -0.567L0.404 -0.563L0.420 -0.560M0.420 -0.560L0.403 -0.557L0.385 -0.553L0.367 -0.548L0.348 -0.543L0.328 -0.537L0.308 -0.530L0.287 -0.522L0.266 -0.513L0.245 -0.503L0.224 -0.492L0.203 -0.479L0.182 -0.465L0.161 -0.450L0.141 -0.434L0.122 -0.416L0.104 -0.397L0.088 -0.376L0.073 -0.355L0.061 -0.333L0.051 -0.309L0.044 -0.285L0.039 -0.261L0.037 -0.236L0.038 -0.212L0.041 -0.189L0.047 -0.166L0.055 -0.145L0.066 -0.125L0.080 -0.106L0.095 -0.089L0.112 -0.073L0.131 -0.059L0.152 -0.046L0.173 -0.035L0.196 -0.025L0.220 -0.017L0.244 -0.012L0.269 -0.009L0.294 -0.009L0.319 -0.011L0.344 -0.016L0.369 -0.024L0.394 -0.033L0.419 -0.044L0.443 -0.057L0.467 -0.070L0.490 -0.085L0.512 -0.100L0.533 -0.116L0.553 -0.132L0.572 -0.148L0.590 -0.165L0.607 -0.182L0.622 -0.199L0.635 -0.215L0.647 -0.232L0.656 -0.248L0.664 -0.264L0.670 -0.280" fill="none" stroke="#1a1a1a" stroke-linecap="round" stroke-linejoin="round" vector-effect="non-scaling-stroke" stroke-width="0.68"/>
<path transform="translate(19.80 247.30) rotate(-90) scale(12.821 14.500)" d="M0.450 -0.974L0.433 -0.968L0.418 -0.960L0.402 -0.953L0.388 -0.944L0.374 -0.935L0.360 -0.926L0.347 -0.916L0.334 -0.905L0.322 -0.893L0.310 -0.881L0.298 -0.868L0.287 -0.854L0.277 -0.840L0.267 -0.826L0.259 -0.811L0.251 -0.795L0.245 -0.780L0.241 -0.764L0.238 -0.749L0.237 -0.734L0.238 -0.718M0.182 -0.465L0.161 -0.450L0.141 -0.434L0.122 -0.416L0.104 -0.397L0.088 -0.376L0.073 -0.355L0.061 -0.333L0.051 -0.309L0.044 -0.285L0.039 -0.261L0.037 -0.236L0.038 -0.212L0.041 -0.189L0.047 -0.166L0.055 -0.145L0.066 -0.125L0.080 -0.106L0.095 -0.089L0.112 -0.073" fill="none" stroke="#1a1a1a" stroke-linecap="round" stroke-linejoin="round" vector-effect="non-scaling-stroke" stroke-width="1.38"/>
<path transform="translate(19.80 247.30) rotate(-90) scale(12.821 14.500)" d="M0.552 -1.000L0.535 -0.998L0.518 -0.995L0.501 -0.991L0.483 -0.986L0.466 -0.981L0.450 -0.974L0.433 -0.968L0.418 -0.960L0.402 -0.953L0.388 -0.944L0.374 -0.935L0.360 -0.926L0.347 -0.916L0.334 -0.905L0.322 -0.893L0.310 -0.881L0.298 -0.868L0.287 -0.854L0.277 -0.840L0.267 -0.826L0.259 -0.811L0.251 -0.795L0.245 -0.780L0.241 -0.764L0.238 -0.749L0.237 -0.734L0.238 -0.718L0.241 -0.704L0.245 -0.689L0.251 -0.675L0.259 -0.662L0.268 -0.649L0.278 -0.637M0.287 -0.522L0.266 -0.513L0.245 -0.503L0.224 -0.492L0.203 -0.479L0.182 -0.465L0.161 -0.450L0.141 -0.434L0.122 -0.416L0.104 -0.397L0.088 -0.376L0.073 -0.355L0.061 -0.333L0.051 -0.309L0.044 -0.285L0.039 -0.261L0.037 -0.236L0.038 -0.212L0.041 -0.189L0.047 -0.166L0.055 -0.145L0.066 -0.125L0.080 -0.106L0.095 -0.089L0.112 -0.073L0.131 -0.059L0.152 -0.046L0.173 -0.035L0.196 -0.025L0.220 -0.017L0.244 -0.012" fill="none" stroke="#1a1a1a" stroke-linecap="round" stroke-linejoin="round" vector-effect="non-scaling-stroke" stroke-width="1.04"/>
<circle transform="translate(19.80 247.30) rotate(-90) scale(12.821 14.500)" cx="0.742" cy="-0.895" r="0.052" fill="#1a1a1a"/>
<path transform="translate(19.80 195.00) rotate(-90) scale(13.205 14.500)" d="M0.730 -0.915L0.725 -0.922L0.720 -0.930L0.713 -0.938L0.706 -0.946L0.697 -0.954L0.688 -0.962L0.678 -0.969L0.667 -0.976L0.655 -0.982L0.643 -0.988L0.629 -0.993L0.615 -0.997L0.600 -0.999L0.585 -1.001L0.569 -1.001L0.552 -1.000L0.535 -0.998L0.518 -0.995L0.501 -0.991L0.483 -0.986L0.466 -0.981L0.450 -0.974L0.433 -0.968L0.418 -0.960L0.402 -0.953L0.388 -0.944L0.374 -0.935L0.360 -0.926L0.347 -0.916L0.334 -0.905L0.322 -0.893L0.310 -0.881L0.298 -0.868L0.287 -0.854L0.277 -0.840L0.267 -0.826L0.259 -0.811L0.251 -0.795L0.245 -0.780L0.241 -0.764L0.238 -0.749L0.237 -0.734L0.238 -0.718L0.241 -0.704L0.245 -0.689L0.251 -0.675L0.259 -0.662L0.268 -0.649L0.278 -0.637L0.289 -0.625L0.301 -0.614L0.314 -0.604L0.328 -0.595L0.342 -0.586L0.357 -0.579L0.373 -0.573L0.388 -0.567L0.404 -0.563L0.420 -0.560M0.420 -0.560L0.403 -0.557L0.385 -0.553L0.367 -0.548L0.348 -0.543L0.328 -0.537L0.308 -0.530L0.287 -0.522L0.266 -0.513L0.245 -0.503L0.224 -0.492L0.203 -0.479L0.182 -0.465L0.161 -0.450L0.141 -0.434L0.122 -0.416L0.104 -0.397L0.088 -0.376L0.073 -0.355L0.061 -0.333L0.051 -0.309L0.044 -0.285L0.039 -0.261L0.037 -0.236L0.038 -0.212L0.041 -0.189L0.047 -0.166L0.055 -0.145L0.066 -0.125L0.080 -0.106L0.095 -0.089L0.112 -0.073L0.131 -0.059L0.152 -0.046L0.173 -0.035L0.196 -0.025L0.220 -0.017L0.244 -0.012L0.269 -0.009L0.294 -0.009L0.319 -0.011L0.344 -0.016L0.369 -0.024L0.394 -0.033L0.419 -0.044L0.443 -0.057L0.467 -0.070L0.490 -0.085L0.512 -0.100L0.533 -0.116L0.553 -0.132L0.572 -0.148L0.590 -0.165L0.607 -0.182L0.622 -0.199L0.635 -0.215L0.647 -0.232L0.656 -0.248L0.664 -0.264L0.670 -0.280" fill="none" stroke="#1a1a1a" stroke-linecap="round" stroke-linejoin="round" vector-effect="non-scaling-stroke" stroke-width="0.68"/>
<path transform="translate(19.80 195.00) rotate(-90) scale(13.205 14.500)" d="M0.450 -0.974L0.433 -0.968L0.418 -0.960L0.402 -0.953L0.388 -0.944L0.374 -0.935L0.360 -0.926L0.347 -0.916L0.334 -0.905L0.322 -0.893L0.310 -0.881L0.298 -0.868L0.287 -0.854L0.277 -0.840L0.267 -0.826L0.259 -0.811L0.251 -0.795L0.245 -0.780L0.241 -0.764L0.238 -0.749L0.237 -0.734L0.238 -0.718M0.182 -0.465L0.161 -0.450L0.141 -0.434L0.122 -0.416L0.104 -0.397L0.088 -0.376L0.073 -0.355L0.061 -0.333L0.051 -0.309L0.044 -0.285L0.039 -0.261L0.037 -0.236L0.038 -0.212L0.041 -0.189L0.047 -0.166L0.055 -0.145L0.066 -0.125L0.080 -0.106L0.095 -0.089L0.112 -0.073" fill="none" stroke="#1a1a1a" stroke-linecap="round" stroke-linejoin="round" vector-effect="non-scaling-stroke" stroke-width="1.38"/>
<path transform="translate(19.80 195.00) rotate(-90) scale(13.205 14.500)" d="M0.552 -1.000L0.535 -0.998L0.518 -0.995L0.501 -0.991L0.483 -0.986L0.466 -0.981L0.450 -0.974L0.433 -0.968L0.418 -0.960L0.402 -0.953L0.388 -0.944L0.374 -0.935L0.360 -0.926L0.347 -0.916L0.334 -0.905L0.322 -0.893L0.310 -0.881L0.298 -0.868L0.287 -0.854L0.277 -0.840L0.267 -0.826L0.259 -0.811L0.251 -0.795L0.245 -0.780L0.241 -0.764L0.238 -0.749L0.237 -0.734L0.238 -0.718L0.241 -0.704L0.245 -0.689L0.251 -0.675L0.259 -0.662L0.268 -0.649L0.278 -0.637M0.287 -0.522L0.266 -0.513L0.245 -0.503L0.224 -0.492L0.203 -0.479L0.182 -0.465L0.161 -0.450L0.141 -0.434L0.122 -0.416L0.104 -0.397L0.088 -0.376L0.073 -0.355L0.061 -0.333L0.051 -0.309L0.044 -0.285L0.039 -0.261L0.037 -0.236L0.038 -0.212L0.041 -0.189L0.047 -0.166L0.055 -0.145L0.066 -0.125L0.080 -0.106L0.095 -0.089L0.112 -0.073L0.131 -0.059L0.152 -0.046L0.173 -0.035L0.196 -0.025L0.220 -0.017L0.244 -0.012" fill="none" stroke="#1a1a1a" stroke-linecap="round" stroke-linejoin="round" vector-effect="non-scaling-stroke" stroke-width="1.04"/>
<circle transform="translate(19.80 195.00) rotate(-90) scale(13.205 14.500)" cx="0.742" cy="-0.895" r="0.052" fill="#1a1a1a"/>
<path d="M14.3 211.50V197.60" stroke="#1a1a1a" stroke-width="1" fill="none"/>
<path d="M8.60 162.50L36.90 172.60" stroke="#1a1a1a" stroke-width="1.00" stroke-linecap="round" fill="none"/>
<path transform="translate(38.90 158.80) rotate(-90)" d="M0.00 0.00L7.20 -15.60L14.40 0.00ZM1.30 -1.15L6.54 -12.50L11.78 -1.15Z" fill="#1a1a1a" fill-rule="evenodd"/>
<path transform="translate(20.40 154.50) rotate(-90)" d="M0 0.47C1.13 -1.04 2.02 -0.85 3.15 0.00S5.17 1.04 6.30 -0.47" fill="none" stroke="#1a1a1a" stroke-width="1.00" stroke-linecap="round"/>
<g style="will-change:transform;filter:grayscale(1)" font-family="'Liberation Serif', serif" fill="#1a1a1a">
<text transform="translate(23.1 522.30) rotate(-90)" font-size="14.6" font-style="italic" letter-spacing="2.5" fill="#2a2a2a">HF</text>
</g>
<path transform="translate(19.80 540.60) rotate(-90)" d="M6.40 -15.80C1.92 -12.52 0.00 -8.83 0.00 -5.55C0.00 -2.27 1.92 1.42 6.40 4.70C2.69 1.21 1.35 -2.27 1.35 -5.55C1.35 -8.83 2.69 -12.32 6.40 -15.80Z" fill="#1a1a1a" stroke="#1a1a1a" stroke-width="0.45" stroke-linejoin="round"/>
<path transform="translate(19.80 470.40) rotate(-90)" d="M0.00 -15.80C4.48 -12.52 6.40 -8.83 6.40 -5.55C6.40 -2.27 4.48 1.42 0.00 4.70C3.71 1.21 5.05 -2.27 5.05 -5.55C5.05 -8.83 3.71 -12.32 0.00 -15.80Z" fill="#1a1a1a" stroke="#1a1a1a" stroke-width="0.45" stroke-linejoin="round"/>
<path transform="translate(19.80 533.30) rotate(-90) scale(12.821 14.500)" d="M0.730 -0.915L0.725 -0.922L0.720 -0.930L0.713 -0.938L0.706 -0.946L0.697 -0.954L0.688 -0.962L0.678 -0.969L0.667 -0.976L0.655 -0.982L0.643 -0.988L0.629 -0.993L0.615 -0.997L0.600 -0.999L0.585 -1.001L0.569 -1.001L0.552 -1.000L0.535 -0.998L0.518 -0.995L0.501 -0.991L0.483 -0.986L0.466 -0.981L0.450 -0.974L0.433 -0.968L0.418 -0.960L0.402 -0.953L0.388 -0.944L0.374 -0.935L0.360 -0.926L0.347 -0.916L0.334 -0.905L0.322 -0.893L0.310 -0.881L0.298 -0.868L0.287 -0.854L0.277 -0.840L0.267 -0.826L0.259 -0.811L0.251 -0.795L0.245 -0.780L0.241 -0.764L0.238 -0.749L0.237 -0.734L0.238 -0.718L0.241 -0.704L0.245 -0.689L0.251 -0.675L0.259 -0.662L0.268 -0.649L0.278 -0.637L0.289 -0.625L0.301 -0.614L0.314 -0.604L0.328 -0.595L0.342 -0.586L0.357 -0.579L0.373 -0.573L0.388 -0.567L0.404 -0.563L0.420 -0.560M0.420 -0.560L0.403 -0.557L0.385 -0.553L0.367 -0.548L0.348 -0.543L0.328 -0.537L0.308 -0.530L0.287 -0.522L0.266 -0.513L0.245 -0.503L0.224 -0.492L0.203 -0.479L0.182 -0.465L0.161 -0.450L0.141 -0.434L0.122 -0.416L0.104 -0.397L0.088 -0.376L0.073 -0.355L0.061 -0.333L0.051 -0.309L0.044 -0.285L0.039 -0.261L0.037 -0.236L0.038 -0.212L0.041 -0.189L0.047 -0.166L0.055 -0.145L0.066 -0.125L0.080 -0.106L0.095 -0.089L0.112 -0.073L0.131 -0.059L0.152 -0.046L0.173 -0.035L0.196 -0.025L0.220 -0.017L0.244 -0.012L0.269 -0.009L0.294 -0.009L0.319 -0.011L0.344 -0.016L0.369 -0.024L0.394 -0.033L0.419 -0.044L0.443 -0.057L0.467 -0.070L0.490 -0.085L0.512 -0.100L0.533 -0.116L0.553 -0.132L0.572 -0.148L0.590 -0.165L0.607 -0.182L0.622 -0.199L0.635 -0.215L0.647 -0.232L0.656 -0.248L0.664 -0.264L0.670 -0.280" fill="none" stroke="#1a1a1a" stroke-linecap="round" stroke-linejoin="round" vector-effect="non-scaling-stroke" stroke-width="0.68"/>
<path transform="translate(19.80 533.30) rotate(-90) scale(12.821 14.500)" d="M0.450 -0.974L0.433 -0.968L0.418 -0.960L0.402 -0.953L0.388 -0.944L0.374 -0.935L0.360 -0.926L0.347 -0.916L0.334 -0.905L0.322 -0.893L0.310 -0.881L0.298 -0.868L0.287 -0.854L0.277 -0.840L0.267 -0.826L0.259 -0.811L0.251 -0.795L0.245 -0.780L0.241 -0.764L0.238 -0.749L0.237 -0.734L0.238 -0.718M0.182 -0.465L0.161 -0.450L0.141 -0.434L0.122 -0.416L0.104 -0.397L0.088 -0.376L0.073 -0.355L0.061 -0.333L0.051 -0.309L0.044 -0.285L0.039 -0.261L0.037 -0.236L0.038 -0.212L0.041 -0.189L0.047 -0.166L0.055 -0.145L0.066 -0.125L0.080 -0.106L0.095 -0.089L0.112 -0.073" fill="none" stroke="#1a1a1a" stroke-linecap="round" stroke-linejoin="round" vector-effect="non-scaling-stroke" stroke-width="1.38"/>
<path transform="translate(19.80 533.30) rotate(-90) scale(12.821 14.500)" d="M0.552 -1.000L0.535 -0.998L0.518 -0.995L0.501 -0.991L0.483 -0.986L0.466 -0.981L0.450 -0.974L0.433 -0.968L0.418 -0.960L0.402 -0.953L0.388 -0.944L0.374 -0.935L0.360 -0.926L0.347 -0.916L0.334 -0.905L0.322 -0.893L0.310 -0.881L0.298 -0.868L0.287 -0.854L0.277 -0.840L0.267 -0.826L0.259 -0.811L0.251 -0.795L0.245 -0.780L0.241 -0.764L0.238 -0.749L0.237 -0.734L0.238 -0.718L0.241 -0.704L0.245 -0.689L0.251 -0.675L0.259 -0.662L0.268 -0.649L0.278 -0.637M0.287 -0.522L0.266 -0.513L0.245 -0.503L0.224 -0.492L0.203 -0.479L0.182 -0.465L0.161 -0.450L0.141 -0.434L0.122 -0.416L0.104 -0.397L0.088 -0.376L0.073 -0.355L0.061 -0.333L0.051 -0.309L0.044 -0.285L0.039 -0.261L0.037 -0.236L0.038 -0.212L0.041 -0.189L0.047 -0.166L0.055 -0.145L0.066 -0.125L0.080 -0.106L0.095 -0.089L0.112 -0.073L0.131 -0.059L0.152 -0.046L0.173 -0.035L0.196 -0.025L0.220 -0.017L0.244 -0.012" fill="none" stroke="#1a1a1a" stroke-linecap="round" stroke-linejoin="round" vector-effect="non-scaling-stroke" stroke-width="1.04"/>
<circle transform="translate(19.80 533.30) rotate(-90) scale(12.821 14.500)" cx="0.742" cy="-0.895" r="0.052" fill="#1a1a1a"/>
<path transform="translate(19.80 481.00) rotate(-90) scale(13.205 14.500)" d="M0.730 -0.915L0.725 -0.922L0.720 -0.930L0.713 -0.938L0.706 -0.946L0.697 -0.954L0.688 -0.962L0.678 -0.969L0.667 -0.976L0.655 -0.982L0.643 -0.988L0.629 -0.993L0.615 -0.997L0.600 -0.999L0.585 -1.001L0.569 -1.001L0.552 -1.000L0.535 -0.998L0.518 -0.995L0.501 -0.991L0.483 -0.986L0.466 -0.981L0.450 -0.974L0.433 -0.968L0.418 -0.960L0.402 -0.953L0.388 -0.944L0.374 -0.935L0.360 -0.926L0.347 -0.916L0.334 -0.905L0.322 -0.893L0.310 -0.881L0.298 -0.868L0.287 -0.854L0.277 -0.840L0.267 -0.826L0.259 -0.811L0.251 -0.795L0.245 -0.780L0.241 -0.764L0.238 -0.749L0.237 -0.734L0.238 -0.718L0.241 -0.704L0.245 -0.689L0.251 -0.675L0.259 -0.662L0.268 -0.649L0.278 -0.637L0.289 -0.625L0.301 -0.614L0.314 -0.604L0.328 -0.595L0.342 -0.586L0.357 -0.579L0.373 -0.573L0.388 -0.567L0.404 -0.563L0.420 -0.560M0.420 -0.560L0.403 -0.557L0.385 -0.553L0.367 -0.548L0.348 -0.543L0.328 -0.537L0.308 -0.530L0.287 -0.522L0.266 -0.513L0.245 -0.503L0.224 -0.492L0.203 -0.479L0.182 -0.465L0.161 -0.450L0.141 -0.434L0.122 -0.416L0.104 -0.397L0.088 -0.376L0.073 -0.355L0.061 -0.333L0.051 -0.309L0.044 -0.285L0.039 -0.261L0.037 -0.236L0.038 -0.212L0.041 -0.189L0.047 -0.166L0.055 -0.145L0.066 -0.125L0.080 -0.106L0.095 -0.089L0.112 -0.073L0.131 -0.059L0.152 -0.046L0.173 -0.035L0.196 -0.025L0.220 -0.017L0.244 -0.012L0.269 -0.009L0.294 -0.009L0.319 -0.011L0.344 -0.016L0.369 -0.024L0.394 -0.033L0.419 -0.044L0.443 -0.057L0.467 -0.070L0.490 -0.085L0.512 -0.100L0.533 -0.116L0.553 -0.132L0.572 -0.148L0.590 -0.165L0.607 -0.182L0.622 -0.199L0.635 -0.215L0.647 -0.232L0.656 -0.248L0.664 -0.264L0.670 -0.280" fill="none" stroke="#1a1a1a" stroke-linecap="round" stroke-linejoin="round" vector-effect="non-scaling-stroke" stroke-width="0.68"/>
<path transform="translate(19.80 481.00) rotate(-90) scale(13.205 14.500)" d="M0.450 -0.974L0.433 -0.968L0.418 -0.960L0.402 -0.953L0.388 -0.944L0.374 -0.935L0.360 -0.926L0.347 -0.916L0.334 -0.905L0.322 -0.893L0.310 -0.881L0.298 -0.868L0.287 -0.854L0.277 -0.840L0.267 -0.826L0.259 -0.811L0.251 -0.795L0.245 -0.780L0.241 -0.764L0.238 -0.749L0.237 -0.734L0.238 -0.718M0.182 -0.465L0.161 -0.450L0.141 -0.434L0.122 -0.416L0.104 -0.397L0.088 -0.376L0.073 -0.355L0.061 -0.333L0.051 -0.309L0.044 -0.285L0.039 -0.261L0.037 -0.236L0.038 -0.212L0.041 -0.189L0.047 -0.166L0.055 -0.145L0.066 -0.125L0.080 -0.106L0.095 -0.089L0.112 -0.073" fill="none" stroke="#1a1a1a" stroke-linecap="round" stroke-linejoin="round" vector-effect="non-scaling-stroke" stroke-width="1.38"/>
<path transform="translate(19.80 481.00) rotate(-90) scale(13.205 14.500)" d="M0.552 -1.000L0.535 -0.998L0.518 -0.995L0.501 -0.991L0.483 -0.986L0.466 -0.981L0.450 -0.974L0.433 -0.968L0.418 -0.960L0.402 -0.953L0.388 -0.944L0.374 -0.935L0.360 -0.926L0.347 -0.916L0.334 -0.905L0.322 -0.893L0.310 -0.881L0.298 -0.868L0.287 -0.854L0.277 -0.840L0.267 -0.826L0.259 -0.811L0.251 -0.795L0.245 -0.780L0.241 -0.764L0.238 -0.749L0.237 -0.734L0.238 -0.718L0.241 -0.704L0.245 -0.689L0.251 -0.675L0.259 -0.662L0.268 -0.649L0.278 -0.637M0.287 -0.522L0.266 -0.513L0.245 -0.503L0.224 -0.492L0.203 -0.479L0.182 -0.465L0.161 -0.450L0.141 -0.434L0.122 -0.416L0.104 -0.397L0.088 -0.376L0.073 -0.355L0.061 -0.333L0.051 -0.309L0.044 -0.285L0.039 -0.261L0.037 -0.236L0.038 -0.212L0.041 -0.189L0.047 -0.166L0.055 -0.145L0.066 -0.125L0.080 -0.106L0.095 -0.089L0.112 -0.073L0.131 -0.059L0.152 -0.046L0.173 -0.035L0.196 -0.025L0.220 -0.017L0.244 -0.012" fill="none" stroke="#1a1a1a" stroke-linecap="round" stroke-linejoin="round" vector-effect="non-scaling-stroke" stroke-width="1.04"/>
<circle transform="translate(19.80 481.00) rotate(-90) scale(13.205 14.500)" cx="0.742" cy="-0.895" r="0.052" fill="#1a1a1a"/>
<path d="M14.3 497.50V483.60" stroke="#1a1a1a" stroke-width="1" fill="none"/>
<path d="M8.60 448.50L36.90 458.60" stroke="#1a1a1a" stroke-width="1.00" stroke-linecap="round" fill="none"/>
<path transform="translate(38.90 444.80) rotate(-90)" d="M0.00 0.00L7.20 -15.60L14.40 0.00ZM1.30 -1.15L6.54 -12.50L11.78 -1.15Z" fill="#1a1a1a" fill-rule="evenodd"/>
<path transform="translate(20.40 440.50) rotate(-90)" d="M0 0.47C1.13 -1.04 2.02 -0.85 3.15 0.00S5.17 1.04 6.30 -0.47" fill="none" stroke="#1a1a1a" stroke-width="1.00" stroke-linecap="round"/>
</svg>
</body></html>
